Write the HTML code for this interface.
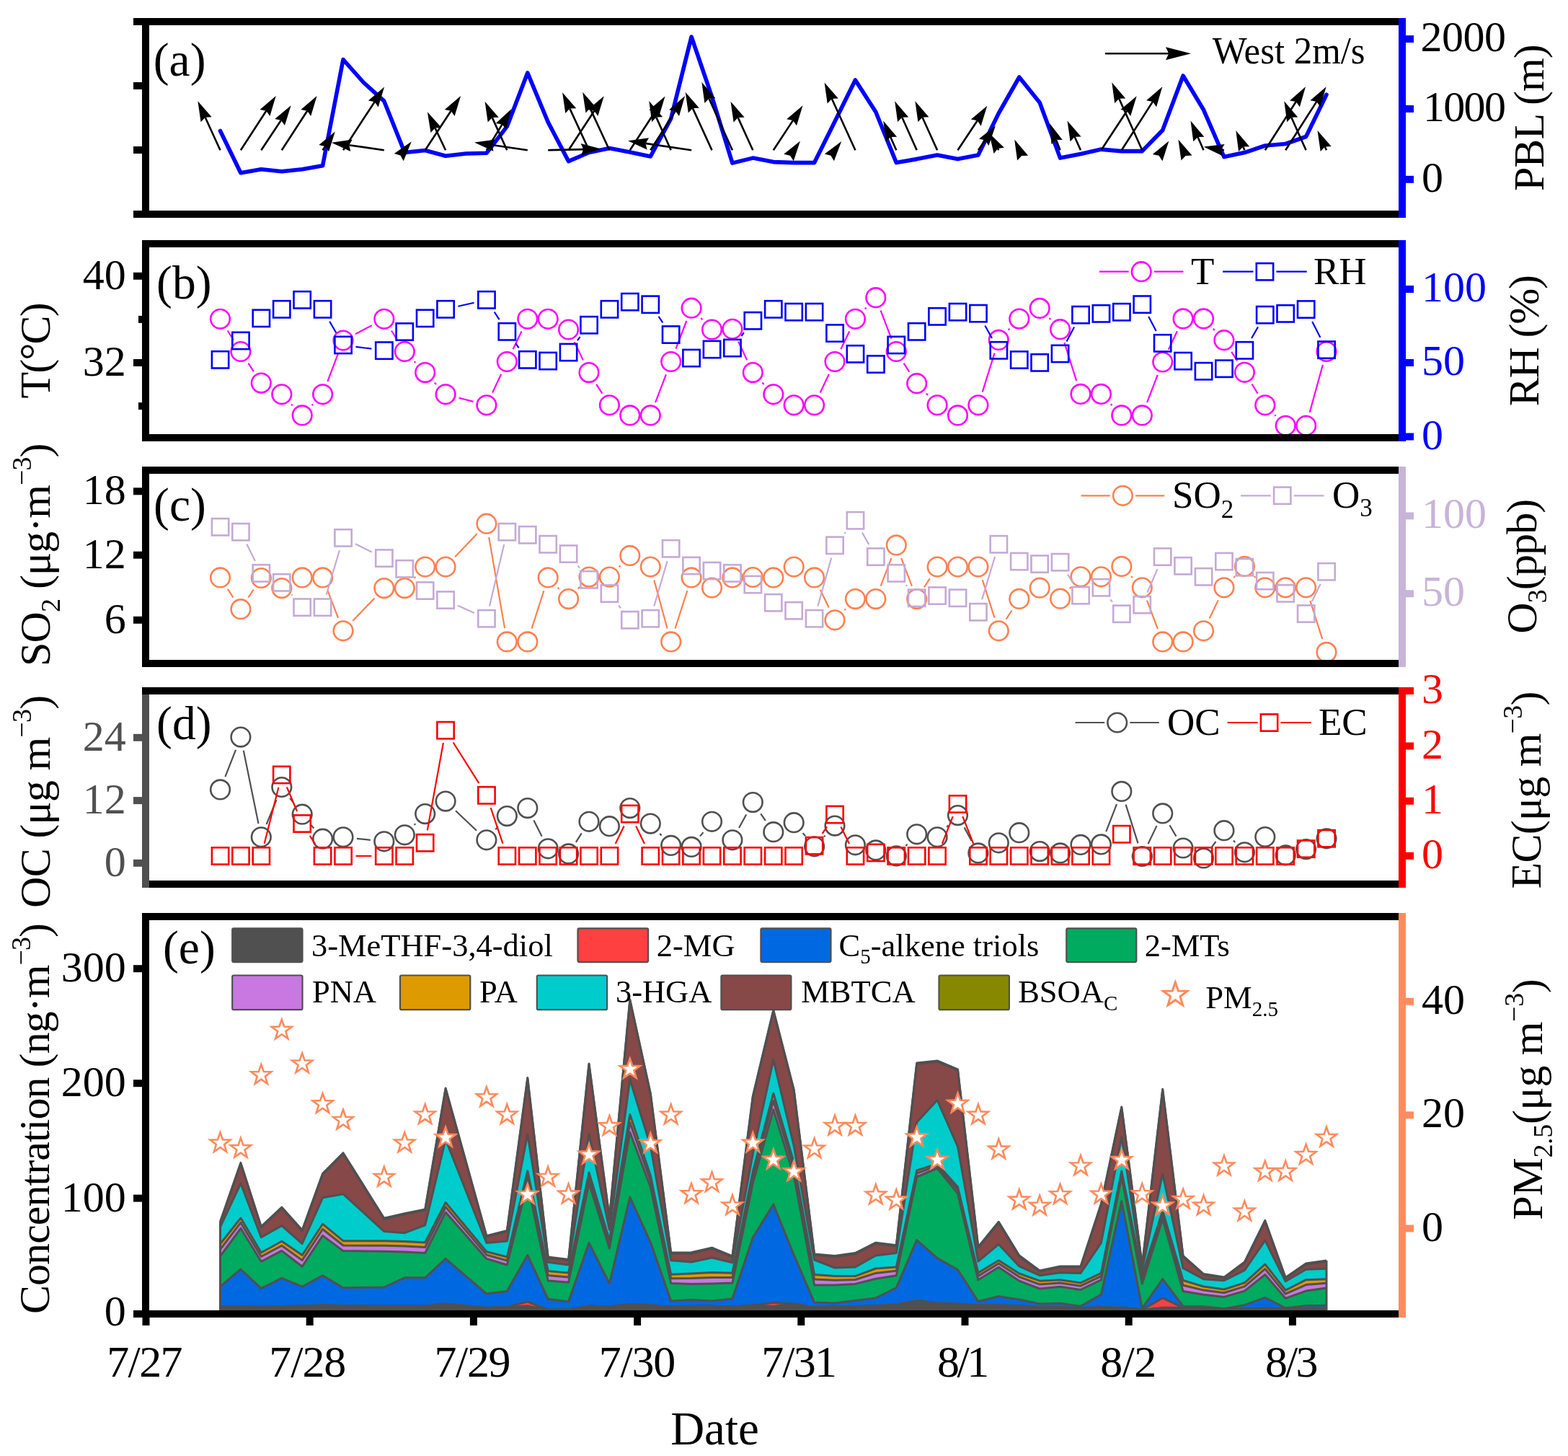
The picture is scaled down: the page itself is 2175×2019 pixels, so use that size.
<!DOCTYPE html>
<html><head><meta charset="utf-8"><title>Figure</title>
<style>html,body{margin:0;padding:0;background:#fff;} svg{display:block;}</style></head>
<body><svg width="2175" height="2019" viewBox="0 0 2175 2019" font-family='"Liberation Serif", "Times New Roman", serif'>
<rect x="0" y="0" width="2175" height="2019" fill="#fff"/>
<polyline points="305.5,181.5 333.9,239.8 362.3,234.8 390.8,237.8 419.2,234.8 447.6,229.8 476.0,82.5 504.4,114.5 532.8,140.2 561.3,211.5 589.7,208.5 618.1,216.3 646.5,213.0 674.9,212.3 703.3,175.4 731.8,101.0 760.2,169.4 788.6,223.6 817.0,211.5 845.4,205.5 873.8,211.0 902.3,217.0 930.7,164.5 959.1,51.0 987.5,134.2 1015.9,226.1 1044.3,219.1 1072.8,224.6 1101.2,225.6 1129.6,225.6 1158.0,168.4 1186.4,111.0 1214.8,155.3 1243.3,225.6 1271.7,220.6 1300.1,215.1 1328.5,220.6 1356.9,215.1 1385.3,157.0 1413.8,107.0 1442.2,142.3 1470.6,219.1 1499.0,213.6 1527.4,207.1 1555.8,209.6 1584.3,209.6 1612.7,180.5 1641.1,105.0 1669.5,152.3 1697.9,217.6 1726.4,211.6 1754.8,202.0 1783.2,199.5 1811.6,189.5 1840.0,131.2" fill="none" stroke="#0000FF" stroke-width="5.6" stroke-linejoin="round" stroke-linecap="round"/>
<line x1="305.5" y1="208.2" x2="284.7" y2="162.7" stroke="#000" stroke-width="2.6"/><path d="M274.4 140.3L293.6 162.3L284.7 162.7L278.6 169.2Z" fill="#000"/><line x1="333.9" y1="208.2" x2="369.3" y2="153.8" stroke="#000" stroke-width="2.6"/><path d="M382.7 133.1L374.4 161.1L369.3 153.8L360.5 152.1Z" fill="#000"/><line x1="362.3" y1="208.2" x2="389.9" y2="166.7" stroke="#000" stroke-width="2.6"/><path d="M403.6 146.2L395.0 174.1L389.9 166.7L381.2 164.9Z" fill="#000"/><line x1="390.8" y1="208.2" x2="426.2" y2="153.8" stroke="#000" stroke-width="2.6"/><path d="M439.6 133.1L431.2 161.1L426.2 153.8L417.4 152.1Z" fill="#000"/><line x1="447.6" y1="208.2" x2="451.1" y2="202.9" stroke="#000" stroke-width="2.6"/><path d="M464.8 182.4L456.1 210.3L451.1 202.9L442.4 201.1Z" fill="#000"/><line x1="476.0" y1="208.2" x2="519.6" y2="141.2" stroke="#000" stroke-width="2.6"/><path d="M533.1 120.6L524.7 148.6L519.6 141.2L510.9 139.6Z" fill="#000"/><line x1="532.8" y1="208.2" x2="484.2" y2="201.2" stroke="#000" stroke-width="2.6"/><path d="M459.8 197.7L488.7 193.5L484.2 201.2L486.3 209.9Z" fill="#000"/><path d="M570.8 196.3L559.7 223.3L555.4 215.5L546.8 213.0Z" fill="#000"/><line x1="589.7" y1="208.2" x2="625.6" y2="153.7" stroke="#000" stroke-width="2.6"/><path d="M639.1 133.1L630.6 161.0L625.6 153.7L616.8 152.0Z" fill="#000"/><line x1="618.1" y1="208.2" x2="603.5" y2="177.5" stroke="#000" stroke-width="2.6"/><path d="M592.9 155.2L612.4 176.9L603.5 177.5L597.5 184.0Z" fill="#000"/><line x1="674.9" y1="208.2" x2="696.6" y2="172.4" stroke="#000" stroke-width="2.6"/><path d="M709.3 151.3L701.9 179.5L696.6 172.4L687.8 171.0Z" fill="#000"/><line x1="703.3" y1="208.2" x2="682.8" y2="163.1" stroke="#000" stroke-width="2.6"/><path d="M672.6 140.7L691.7 162.8L682.8 163.1L676.7 169.6Z" fill="#000"/><line x1="731.8" y1="208.2" x2="682.4" y2="201.0" stroke="#000" stroke-width="2.6"/><path d="M658.0 197.5L686.9 193.4L682.4 201.0L684.5 209.7Z" fill="#000"/><line x1="760.2" y1="208.2" x2="809.2" y2="207.1" stroke="#000" stroke-width="2.6"/><path d="M833.8 206.5L806.0 215.4L809.2 207.1L805.6 198.9Z" fill="#000"/><line x1="788.6" y1="208.2" x2="824.3" y2="153.8" stroke="#000" stroke-width="2.6"/><path d="M837.8 133.2L829.3 161.1L824.3 153.8L815.5 152.1Z" fill="#000"/><line x1="817.0" y1="208.2" x2="790.4" y2="150.6" stroke="#000" stroke-width="2.6"/><path d="M780.1 128.2L799.3 150.2L790.4 150.6L784.3 157.1Z" fill="#000"/><line x1="845.4" y1="208.2" x2="818.5" y2="150.1" stroke="#000" stroke-width="2.6"/><path d="M808.2 127.7L827.4 149.7L818.5 150.1L812.5 156.6Z" fill="#000"/><line x1="873.8" y1="208.2" x2="909.0" y2="154.2" stroke="#000" stroke-width="2.6"/><path d="M922.5 133.6L914.1 161.6L909.0 154.2L900.3 152.5Z" fill="#000"/><line x1="902.3" y1="208.2" x2="936.9" y2="153.9" stroke="#000" stroke-width="2.6"/><path d="M950.1 133.1L942.0 161.1L936.9 153.9L928.1 152.3Z" fill="#000"/><line x1="930.7" y1="208.2" x2="910.3" y2="162.6" stroke="#000" stroke-width="2.6"/><path d="M900.3 140.1L919.2 162.3L910.3 162.6L904.2 169.0Z" fill="#000"/><line x1="959.1" y1="208.2" x2="895.5" y2="198.9" stroke="#000" stroke-width="2.6"/><path d="M871.1 195.3L900.0 191.2L895.5 198.9L897.6 207.5Z" fill="#000"/><line x1="987.5" y1="208.2" x2="960.9" y2="150.1" stroke="#000" stroke-width="2.6"/><path d="M950.7 127.7L969.8 149.7L960.9 150.1L954.8 156.6Z" fill="#000"/><line x1="1015.9" y1="208.2" x2="983.5" y2="136.6" stroke="#000" stroke-width="2.6"/><path d="M973.4 114.1L992.4 136.2L983.5 136.6L977.4 143.0Z" fill="#000"/><line x1="1044.3" y1="208.2" x2="1023.7" y2="163.1" stroke="#000" stroke-width="2.6"/><path d="M1013.5 140.7L1032.6 162.7L1023.7 163.1L1017.6 169.6Z" fill="#000"/><line x1="1072.8" y1="208.2" x2="1100.0" y2="166.9" stroke="#000" stroke-width="2.6"/><path d="M1113.5 146.3L1105.0 174.2L1100.0 166.9L1091.2 165.2Z" fill="#000"/><path d="M1110.0 195.5L1100.8 223.2L1095.9 215.7L1087.2 213.8Z" fill="#000"/><path d="M1167.2 196.0L1156.9 223.3L1152.4 215.7L1143.8 213.4Z" fill="#000"/><line x1="1186.4" y1="208.2" x2="1153.9" y2="137.0" stroke="#000" stroke-width="2.6"/><path d="M1143.6 114.6L1162.8 136.6L1153.9 137.0L1147.7 143.5Z" fill="#000"/><line x1="1243.3" y1="208.2" x2="1235.2" y2="189.9" stroke="#000" stroke-width="2.6"/><path d="M1225.2 167.4L1244.1 189.7L1235.2 189.9L1229.0 196.3Z" fill="#000"/><line x1="1271.7" y1="208.2" x2="1251.3" y2="162.7" stroke="#000" stroke-width="2.6"/><path d="M1241.2 140.2L1260.2 162.4L1251.3 162.7L1245.1 169.1Z" fill="#000"/><line x1="1300.1" y1="208.2" x2="1279.5" y2="162.7" stroke="#000" stroke-width="2.6"/><path d="M1269.4 140.2L1288.4 162.3L1279.5 162.7L1273.4 169.1Z" fill="#000"/><line x1="1328.5" y1="208.2" x2="1355.7" y2="167.3" stroke="#000" stroke-width="2.6"/><path d="M1369.3 146.8L1360.7 174.7L1355.7 167.3L1346.9 165.6Z" fill="#000"/><line x1="1356.9" y1="208.2" x2="1366.6" y2="194.5" stroke="#000" stroke-width="2.6"/><path d="M1380.9 174.4L1371.4 202.0L1366.6 194.5L1358.0 192.5Z" fill="#000"/><line x1="1385.3" y1="208.2" x2="1384.1" y2="206.0" stroke="#000" stroke-width="2.6"/><path d="M1372.0 184.5L1392.9 204.8L1384.1 206.0L1378.6 212.9Z" fill="#000"/><path d="M1407.2 193.5L1426.1 215.7L1417.2 216.0L1411.1 222.4Z" fill="#000"/><line x1="1470.6" y1="208.2" x2="1464.9" y2="193.8" stroke="#000" stroke-width="2.6"/><path d="M1455.9 170.9L1473.8 193.9L1464.9 193.8L1458.5 200.0Z" fill="#000"/><line x1="1499.0" y1="208.2" x2="1490.7" y2="189.8" stroke="#000" stroke-width="2.6"/><path d="M1480.5 167.4L1499.6 189.5L1490.7 189.8L1484.6 196.3Z" fill="#000"/><line x1="1527.4" y1="208.2" x2="1563.2" y2="153.8" stroke="#000" stroke-width="2.6"/><path d="M1576.7 133.2L1568.2 161.1L1563.2 153.8L1554.4 152.1Z" fill="#000"/><line x1="1555.8" y1="208.2" x2="1599.0" y2="140.9" stroke="#000" stroke-width="2.6"/><path d="M1612.3 120.2L1604.1 148.2L1599.0 140.9L1590.2 139.3Z" fill="#000"/><line x1="1584.3" y1="208.2" x2="1552.3" y2="136.7" stroke="#000" stroke-width="2.6"/><path d="M1542.3 114.2L1561.2 136.4L1552.3 136.7L1546.2 143.1Z" fill="#000"/><path d="M1621.4 195.5L1612.4 223.3L1607.5 215.8L1598.8 213.9Z" fill="#000"/><path d="M1634.4 193.5L1653.5 215.6L1644.6 215.9L1638.5 222.4Z" fill="#000"/><line x1="1669.5" y1="208.2" x2="1661.5" y2="189.9" stroke="#000" stroke-width="2.6"/><path d="M1651.5 167.4L1670.4 189.7L1661.5 189.9L1655.3 196.3Z" fill="#000"/><line x1="1697.9" y1="208.2" x2="1693.9" y2="207.5" stroke="#000" stroke-width="2.6"/><path d="M1669.6 203.6L1698.6 199.9L1693.9 207.5L1695.9 216.2Z" fill="#000"/><line x1="1726.4" y1="208.2" x2="1724.3" y2="203.5" stroke="#000" stroke-width="2.6"/><path d="M1714.3 181.0L1733.2 203.3L1724.3 203.5L1718.1 209.9Z" fill="#000"/><line x1="1754.8" y1="208.2" x2="1797.7" y2="141.0" stroke="#000" stroke-width="2.6"/><path d="M1811.0 120.2L1802.9 148.2L1797.7 141.0L1789.0 139.4Z" fill="#000"/><line x1="1783.2" y1="208.2" x2="1826.3" y2="140.9" stroke="#000" stroke-width="2.6"/><path d="M1839.6 120.2L1831.4 148.2L1826.3 140.9L1817.5 139.3Z" fill="#000"/><line x1="1811.6" y1="208.2" x2="1791.3" y2="162.8" stroke="#000" stroke-width="2.6"/><path d="M1781.3 140.3L1800.2 162.5L1791.3 162.8L1785.2 169.2Z" fill="#000"/><line x1="1840.0" y1="208.2" x2="1837.8" y2="203.4" stroke="#000" stroke-width="2.6"/><path d="M1827.5 181.0L1846.7 203.0L1837.8 203.4L1831.7 209.9Z" fill="#000"/>
<line x1="1533.0" y1="74.2" x2="1621.2" y2="74.2" stroke="#000" stroke-width="2.6"/><path d="M1652.0 74.2L1617.0 83.2L1621.2 74.2L1617.0 65.2Z" fill="#000"/>
<text x="1681.7" y="88" font-size="53" textLength="211.9" lengthAdjust="spacingAndGlyphs">West 2m/s</text>
<path d="M315.7 458.5L323.8 471.3M344.3 503.5L351.9 515.1M404.1 560.5L405.8 562.2M432.5 562.2L434.2 560.5M454.4 528.9L469.2 489.9M492.9 463.2L515.9 451.1M543.0 458.5L551.1 471.3M574.6 501.2L576.3 502.9M602.8 530.5L605.0 532.9M636.6 551.7L656.5 556.9M683.1 544.5L695.2 518.8M711.6 484.3L723.5 459.5M796.8 474.2L808.8 499.4M827.2 532.8L835.3 545.6M909.1 558.1L923.9 519.3M937.5 483.7L952.3 445.0M972.3 441.0L974.3 443.2M1024.1 473.6L1036.2 499.3M1057.4 530.5L1059.7 532.9M1137.7 544.5L1149.9 518.8M1166.3 484.3L1178.2 459.5M1199.7 428.5L1201.6 426.5M1221.6 430.6L1236.5 469.6M1253.6 503.6L1261.3 515.6M1284.8 545.6L1287.0 547.9M1362.7 543.6L1379.6 489.6M1398.6 457.7L1400.5 455.8M1455.5 441.1L1457.3 443.0M1476.4 474.9L1493.2 528.2M1540.7 560.2L1542.6 562.1M1591.1 558.1L1605.8 519.8M1620.8 484.7L1632.9 459.2M1682.7 455.7L1684.8 457.9M1708.2 487.8L1716.1 500.2M1736.5 532.5L1744.6 545.6M1768.3 575.3L1769.7 576.8M1816.7 571.9L1834.9 505.8" stroke="#FF00FF" stroke-width="2.2" fill="none"/>
<circle cx="305.5" cy="442.3" r="13.3" fill="none" stroke="#FF00FF" stroke-width="2.6"/>
<circle cx="333.9" cy="487.5" r="13.3" fill="none" stroke="#FF00FF" stroke-width="2.6"/>
<circle cx="362.3" cy="531.1" r="13.3" fill="none" stroke="#FF00FF" stroke-width="2.6"/>
<circle cx="390.8" cy="546.8" r="13.3" fill="none" stroke="#FF00FF" stroke-width="2.6"/>
<circle cx="419.2" cy="575.9" r="13.3" fill="none" stroke="#FF00FF" stroke-width="2.6"/>
<circle cx="447.6" cy="546.8" r="13.3" fill="none" stroke="#FF00FF" stroke-width="2.6"/>
<circle cx="476.0" cy="472.0" r="13.3" fill="none" stroke="#FF00FF" stroke-width="2.6"/>
<circle cx="532.8" cy="442.3" r="13.3" fill="none" stroke="#FF00FF" stroke-width="2.6"/>
<circle cx="561.3" cy="487.5" r="13.3" fill="none" stroke="#FF00FF" stroke-width="2.6"/>
<circle cx="589.7" cy="516.6" r="13.3" fill="none" stroke="#FF00FF" stroke-width="2.6"/>
<circle cx="618.1" cy="546.8" r="13.3" fill="none" stroke="#FF00FF" stroke-width="2.6"/>
<circle cx="674.9" cy="561.8" r="13.3" fill="none" stroke="#FF00FF" stroke-width="2.6"/>
<circle cx="703.3" cy="501.5" r="13.3" fill="none" stroke="#FF00FF" stroke-width="2.6"/>
<circle cx="731.8" cy="442.3" r="13.3" fill="none" stroke="#FF00FF" stroke-width="2.6"/>
<circle cx="760.2" cy="442.3" r="13.3" fill="none" stroke="#FF00FF" stroke-width="2.6"/>
<circle cx="788.6" cy="457.0" r="13.3" fill="none" stroke="#FF00FF" stroke-width="2.6"/>
<circle cx="817.0" cy="516.6" r="13.3" fill="none" stroke="#FF00FF" stroke-width="2.6"/>
<circle cx="845.4" cy="561.8" r="13.3" fill="none" stroke="#FF00FF" stroke-width="2.6"/>
<circle cx="873.8" cy="575.9" r="13.3" fill="none" stroke="#FF00FF" stroke-width="2.6"/>
<circle cx="902.3" cy="575.9" r="13.3" fill="none" stroke="#FF00FF" stroke-width="2.6"/>
<circle cx="930.7" cy="501.5" r="13.3" fill="none" stroke="#FF00FF" stroke-width="2.6"/>
<circle cx="959.1" cy="427.2" r="13.3" fill="none" stroke="#FF00FF" stroke-width="2.6"/>
<circle cx="987.5" cy="457.0" r="13.3" fill="none" stroke="#FF00FF" stroke-width="2.6"/>
<circle cx="1015.9" cy="456.3" r="13.3" fill="none" stroke="#FF00FF" stroke-width="2.6"/>
<circle cx="1044.3" cy="516.6" r="13.3" fill="none" stroke="#FF00FF" stroke-width="2.6"/>
<circle cx="1072.8" cy="546.8" r="13.3" fill="none" stroke="#FF00FF" stroke-width="2.6"/>
<circle cx="1101.2" cy="561.8" r="13.3" fill="none" stroke="#FF00FF" stroke-width="2.6"/>
<circle cx="1129.6" cy="561.8" r="13.3" fill="none" stroke="#FF00FF" stroke-width="2.6"/>
<circle cx="1158.0" cy="501.5" r="13.3" fill="none" stroke="#FF00FF" stroke-width="2.6"/>
<circle cx="1186.4" cy="442.3" r="13.3" fill="none" stroke="#FF00FF" stroke-width="2.6"/>
<circle cx="1214.8" cy="412.7" r="13.3" fill="none" stroke="#FF00FF" stroke-width="2.6"/>
<circle cx="1243.3" cy="487.5" r="13.3" fill="none" stroke="#FF00FF" stroke-width="2.6"/>
<circle cx="1271.7" cy="531.7" r="13.3" fill="none" stroke="#FF00FF" stroke-width="2.6"/>
<circle cx="1300.1" cy="561.8" r="13.3" fill="none" stroke="#FF00FF" stroke-width="2.6"/>
<circle cx="1328.5" cy="575.9" r="13.3" fill="none" stroke="#FF00FF" stroke-width="2.6"/>
<circle cx="1356.9" cy="561.8" r="13.3" fill="none" stroke="#FF00FF" stroke-width="2.6"/>
<circle cx="1385.3" cy="471.4" r="13.3" fill="none" stroke="#FF00FF" stroke-width="2.6"/>
<circle cx="1413.8" cy="442.1" r="13.3" fill="none" stroke="#FF00FF" stroke-width="2.6"/>
<circle cx="1442.2" cy="427.4" r="13.3" fill="none" stroke="#FF00FF" stroke-width="2.6"/>
<circle cx="1470.6" cy="456.7" r="13.3" fill="none" stroke="#FF00FF" stroke-width="2.6"/>
<circle cx="1499.0" cy="546.4" r="13.3" fill="none" stroke="#FF00FF" stroke-width="2.6"/>
<circle cx="1527.4" cy="546.4" r="13.3" fill="none" stroke="#FF00FF" stroke-width="2.6"/>
<circle cx="1555.8" cy="575.9" r="13.3" fill="none" stroke="#FF00FF" stroke-width="2.6"/>
<circle cx="1584.3" cy="575.9" r="13.3" fill="none" stroke="#FF00FF" stroke-width="2.6"/>
<circle cx="1612.7" cy="502.0" r="13.3" fill="none" stroke="#FF00FF" stroke-width="2.6"/>
<circle cx="1641.1" cy="441.9" r="13.3" fill="none" stroke="#FF00FF" stroke-width="2.6"/>
<circle cx="1669.5" cy="441.9" r="13.3" fill="none" stroke="#FF00FF" stroke-width="2.6"/>
<circle cx="1697.9" cy="471.7" r="13.3" fill="none" stroke="#FF00FF" stroke-width="2.6"/>
<circle cx="1726.4" cy="516.3" r="13.3" fill="none" stroke="#FF00FF" stroke-width="2.6"/>
<circle cx="1754.8" cy="561.8" r="13.3" fill="none" stroke="#FF00FF" stroke-width="2.6"/>
<circle cx="1783.2" cy="590.3" r="13.3" fill="none" stroke="#FF00FF" stroke-width="2.6"/>
<circle cx="1811.6" cy="590.3" r="13.3" fill="none" stroke="#FF00FF" stroke-width="2.6"/>
<circle cx="1840.0" cy="487.4" r="13.3" fill="none" stroke="#FF00FF" stroke-width="2.6"/>
<path d="M457.2 445.7L466.3 461.5M493.4 480.8L515.4 483.7M635.4 424.8L657.6 419.8M685.7 432.5L692.5 443.1M715.4 476.4L719.7 482.3M801.0 472.0L804.6 467.2M913.6 438.9L919.3 447.3M1028.4 466.0L1031.9 461.2M1366.3 451.5L1376.0 469.0M1479.5 473.5L1490.1 453.5M1593.2 439.0L1603.7 459.0M1736.1 469.0L1745.0 453.4M1820.2 446.0L1831.4 468.1" stroke="#0000FF" stroke-width="2.2" fill="none"/>
<rect x="293.9" y="487.2" width="23.3" height="23.3" fill="none" stroke="#0000FF" stroke-width="2.6"/>
<rect x="322.3" y="460.8" width="23.3" height="23.3" fill="none" stroke="#0000FF" stroke-width="2.6"/>
<rect x="350.7" y="429.7" width="23.3" height="23.3" fill="none" stroke="#0000FF" stroke-width="2.6"/>
<rect x="379.1" y="417.2" width="23.3" height="23.3" fill="none" stroke="#0000FF" stroke-width="2.6"/>
<rect x="407.5" y="404.2" width="23.3" height="23.3" fill="none" stroke="#0000FF" stroke-width="2.6"/>
<rect x="435.9" y="417.2" width="23.3" height="23.3" fill="none" stroke="#0000FF" stroke-width="2.6"/>
<rect x="464.4" y="466.8" width="23.3" height="23.3" fill="none" stroke="#0000FF" stroke-width="2.6"/>
<rect x="521.2" y="474.5" width="23.3" height="23.3" fill="none" stroke="#0000FF" stroke-width="2.6"/>
<rect x="549.6" y="448.4" width="23.3" height="23.3" fill="none" stroke="#0000FF" stroke-width="2.6"/>
<rect x="578.0" y="429.7" width="23.3" height="23.3" fill="none" stroke="#0000FF" stroke-width="2.6"/>
<rect x="606.4" y="417.2" width="23.3" height="23.3" fill="none" stroke="#0000FF" stroke-width="2.6"/>
<rect x="663.3" y="404.2" width="23.3" height="23.3" fill="none" stroke="#0000FF" stroke-width="2.6"/>
<rect x="691.7" y="448.2" width="23.3" height="23.3" fill="none" stroke="#0000FF" stroke-width="2.6"/>
<rect x="720.1" y="487.2" width="23.3" height="23.3" fill="none" stroke="#0000FF" stroke-width="2.6"/>
<rect x="748.5" y="488.9" width="23.3" height="23.3" fill="none" stroke="#0000FF" stroke-width="2.6"/>
<rect x="776.9" y="476.9" width="23.3" height="23.3" fill="none" stroke="#0000FF" stroke-width="2.6"/>
<rect x="805.4" y="439.1" width="23.3" height="23.3" fill="none" stroke="#0000FF" stroke-width="2.6"/>
<rect x="833.8" y="417.2" width="23.3" height="23.3" fill="none" stroke="#0000FF" stroke-width="2.6"/>
<rect x="862.2" y="407.0" width="23.3" height="23.3" fill="none" stroke="#0000FF" stroke-width="2.6"/>
<rect x="890.6" y="410.6" width="23.3" height="23.3" fill="none" stroke="#0000FF" stroke-width="2.6"/>
<rect x="919.0" y="452.4" width="23.3" height="23.3" fill="none" stroke="#0000FF" stroke-width="2.6"/>
<rect x="947.4" y="484.9" width="23.3" height="23.3" fill="none" stroke="#0000FF" stroke-width="2.6"/>
<rect x="975.9" y="472.9" width="23.3" height="23.3" fill="none" stroke="#0000FF" stroke-width="2.6"/>
<rect x="1004.3" y="470.9" width="23.3" height="23.3" fill="none" stroke="#0000FF" stroke-width="2.6"/>
<rect x="1032.7" y="433.1" width="23.3" height="23.3" fill="none" stroke="#0000FF" stroke-width="2.6"/>
<rect x="1061.1" y="417.2" width="23.3" height="23.3" fill="none" stroke="#0000FF" stroke-width="2.6"/>
<rect x="1089.5" y="421.0" width="23.3" height="23.3" fill="none" stroke="#0000FF" stroke-width="2.6"/>
<rect x="1117.9" y="421.0" width="23.3" height="23.3" fill="none" stroke="#0000FF" stroke-width="2.6"/>
<rect x="1146.4" y="450.4" width="23.3" height="23.3" fill="none" stroke="#0000FF" stroke-width="2.6"/>
<rect x="1174.8" y="479.2" width="23.3" height="23.3" fill="none" stroke="#0000FF" stroke-width="2.6"/>
<rect x="1203.2" y="493.4" width="23.3" height="23.3" fill="none" stroke="#0000FF" stroke-width="2.6"/>
<rect x="1231.6" y="466.8" width="23.3" height="23.3" fill="none" stroke="#0000FF" stroke-width="2.6"/>
<rect x="1260.0" y="448.2" width="23.3" height="23.3" fill="none" stroke="#0000FF" stroke-width="2.6"/>
<rect x="1288.4" y="427.2" width="23.3" height="23.3" fill="none" stroke="#0000FF" stroke-width="2.6"/>
<rect x="1316.9" y="421.0" width="23.3" height="23.3" fill="none" stroke="#0000FF" stroke-width="2.6"/>
<rect x="1345.3" y="423.0" width="23.3" height="23.3" fill="none" stroke="#0000FF" stroke-width="2.6"/>
<rect x="1373.7" y="474.2" width="23.3" height="23.3" fill="none" stroke="#0000FF" stroke-width="2.6"/>
<rect x="1402.1" y="487.4" width="23.3" height="23.3" fill="none" stroke="#0000FF" stroke-width="2.6"/>
<rect x="1430.5" y="491.2" width="23.3" height="23.3" fill="none" stroke="#0000FF" stroke-width="2.6"/>
<rect x="1458.9" y="478.8" width="23.3" height="23.3" fill="none" stroke="#0000FF" stroke-width="2.6"/>
<rect x="1487.4" y="425.0" width="23.3" height="23.3" fill="none" stroke="#0000FF" stroke-width="2.6"/>
<rect x="1515.8" y="423.2" width="23.3" height="23.3" fill="none" stroke="#0000FF" stroke-width="2.6"/>
<rect x="1544.2" y="421.1" width="23.3" height="23.3" fill="none" stroke="#0000FF" stroke-width="2.6"/>
<rect x="1572.6" y="410.5" width="23.3" height="23.3" fill="none" stroke="#0000FF" stroke-width="2.6"/>
<rect x="1601.0" y="464.2" width="23.3" height="23.3" fill="none" stroke="#0000FF" stroke-width="2.6"/>
<rect x="1629.4" y="489.0" width="23.3" height="23.3" fill="none" stroke="#0000FF" stroke-width="2.6"/>
<rect x="1657.9" y="503.1" width="23.3" height="23.3" fill="none" stroke="#0000FF" stroke-width="2.6"/>
<rect x="1686.3" y="499.6" width="23.3" height="23.3" fill="none" stroke="#0000FF" stroke-width="2.6"/>
<rect x="1714.7" y="474.2" width="23.3" height="23.3" fill="none" stroke="#0000FF" stroke-width="2.6"/>
<rect x="1743.1" y="425.0" width="23.3" height="23.3" fill="none" stroke="#0000FF" stroke-width="2.6"/>
<rect x="1771.5" y="423.2" width="23.3" height="23.3" fill="none" stroke="#0000FF" stroke-width="2.6"/>
<rect x="1800.0" y="417.4" width="23.3" height="23.3" fill="none" stroke="#0000FF" stroke-width="2.6"/>
<rect x="1828.4" y="473.5" width="23.3" height="23.3" fill="none" stroke="#0000FF" stroke-width="2.6"/>
<path d="M1525.0 376.7H1565.6M1600.8 376.7H1641.4" stroke="#FF00FF" stroke-width="2.2" fill="none"/>
<circle cx="1583.2" cy="376.7" r="13.3" fill="none" stroke="#FF00FF" stroke-width="2.6"/>
<text x="1652" y="394" font-size="53">T</text>
<path d="M1696.2 376.7H1738.5M1770.4 376.7H1812.7" stroke="#0000FF" stroke-width="2.2" fill="none"/>
<rect x="1742.8" y="365.1" width="23.3" height="23.3" fill="none" stroke="#0000FF" stroke-width="2.6"/>
<text x="1822" y="394" font-size="53">RH</text>
<path d="M315.9 816.9L323.5 828.7M344.4 828.7L351.8 817.5M454.4 818.7L469.1 857.0M489.2 861.0L519.6 829.4M574.5 801.8L576.4 799.8M631.2 772.2L661.8 740.0M678.2 745.0L700.1 871.1M737.6 871.7L754.4 819.1M773.4 814.7L775.4 816.8M801.6 816.6L804.0 814.1M858.6 786.3L860.6 784.2M907.3 804.4L925.6 871.5M936.5 871.7L953.3 819.1M1137.9 818.1L1149.7 842.6M1171.3 846.1L1173.1 844.3M1221.6 812.7L1236.5 773.8M1250.1 773.8L1264.9 812.7M1281.9 814.5L1289.8 802.1M1362.8 804.2L1379.5 856.6M1395.6 858.7L1403.5 846.5M1483.6 816.2L1486.0 813.8M1569.1 799.1L1571.0 801.1M1591.0 832.7L1605.9 872.0M1677.7 857.5L1689.8 832.1M1711.2 801.1L1713.1 799.1M1739.6 799.1L1741.5 801.1M1817.4 833.0L1834.2 886.2" stroke="#FF8050" stroke-width="2.2" fill="none"/>
<circle cx="305.5" cy="800.9" r="13.3" fill="none" stroke="#FF8050" stroke-width="2.6"/>
<circle cx="333.9" cy="844.7" r="13.3" fill="none" stroke="#FF8050" stroke-width="2.6"/>
<circle cx="362.3" cy="801.5" r="13.3" fill="none" stroke="#FF8050" stroke-width="2.6"/>
<circle cx="390.8" cy="815.6" r="13.3" fill="none" stroke="#FF8050" stroke-width="2.6"/>
<circle cx="419.2" cy="800.9" r="13.3" fill="none" stroke="#FF8050" stroke-width="2.6"/>
<circle cx="447.6" cy="800.9" r="13.3" fill="none" stroke="#FF8050" stroke-width="2.6"/>
<circle cx="476.0" cy="874.8" r="13.3" fill="none" stroke="#FF8050" stroke-width="2.6"/>
<circle cx="532.8" cy="815.6" r="13.3" fill="none" stroke="#FF8050" stroke-width="2.6"/>
<circle cx="561.3" cy="815.6" r="13.3" fill="none" stroke="#FF8050" stroke-width="2.6"/>
<circle cx="589.7" cy="786.0" r="13.3" fill="none" stroke="#FF8050" stroke-width="2.6"/>
<circle cx="618.1" cy="786.0" r="13.3" fill="none" stroke="#FF8050" stroke-width="2.6"/>
<circle cx="674.9" cy="726.2" r="13.3" fill="none" stroke="#FF8050" stroke-width="2.6"/>
<circle cx="703.3" cy="889.9" r="13.3" fill="none" stroke="#FF8050" stroke-width="2.6"/>
<circle cx="731.8" cy="889.9" r="13.3" fill="none" stroke="#FF8050" stroke-width="2.6"/>
<circle cx="760.2" cy="800.9" r="13.3" fill="none" stroke="#FF8050" stroke-width="2.6"/>
<circle cx="788.6" cy="830.6" r="13.3" fill="none" stroke="#FF8050" stroke-width="2.6"/>
<circle cx="817.0" cy="800.1" r="13.3" fill="none" stroke="#FF8050" stroke-width="2.6"/>
<circle cx="845.4" cy="800.1" r="13.3" fill="none" stroke="#FF8050" stroke-width="2.6"/>
<circle cx="873.8" cy="770.4" r="13.3" fill="none" stroke="#FF8050" stroke-width="2.6"/>
<circle cx="902.3" cy="786.0" r="13.3" fill="none" stroke="#FF8050" stroke-width="2.6"/>
<circle cx="930.7" cy="889.9" r="13.3" fill="none" stroke="#FF8050" stroke-width="2.6"/>
<circle cx="959.1" cy="800.9" r="13.3" fill="none" stroke="#FF8050" stroke-width="2.6"/>
<circle cx="987.5" cy="815.0" r="13.3" fill="none" stroke="#FF8050" stroke-width="2.6"/>
<circle cx="1015.9" cy="800.9" r="13.3" fill="none" stroke="#FF8050" stroke-width="2.6"/>
<circle cx="1044.3" cy="800.5" r="13.3" fill="none" stroke="#FF8050" stroke-width="2.6"/>
<circle cx="1072.8" cy="800.9" r="13.3" fill="none" stroke="#FF8050" stroke-width="2.6"/>
<circle cx="1101.2" cy="786.0" r="13.3" fill="none" stroke="#FF8050" stroke-width="2.6"/>
<circle cx="1129.6" cy="800.9" r="13.3" fill="none" stroke="#FF8050" stroke-width="2.6"/>
<circle cx="1158.0" cy="859.8" r="13.3" fill="none" stroke="#FF8050" stroke-width="2.6"/>
<circle cx="1186.4" cy="830.6" r="13.3" fill="none" stroke="#FF8050" stroke-width="2.6"/>
<circle cx="1214.8" cy="830.6" r="13.3" fill="none" stroke="#FF8050" stroke-width="2.6"/>
<circle cx="1243.3" cy="755.9" r="13.3" fill="none" stroke="#FF8050" stroke-width="2.6"/>
<circle cx="1271.7" cy="830.6" r="13.3" fill="none" stroke="#FF8050" stroke-width="2.6"/>
<circle cx="1300.1" cy="786.0" r="13.3" fill="none" stroke="#FF8050" stroke-width="2.6"/>
<circle cx="1328.5" cy="786.0" r="13.3" fill="none" stroke="#FF8050" stroke-width="2.6"/>
<circle cx="1356.9" cy="786.0" r="13.3" fill="none" stroke="#FF8050" stroke-width="2.6"/>
<circle cx="1385.3" cy="874.8" r="13.3" fill="none" stroke="#FF8050" stroke-width="2.6"/>
<circle cx="1413.8" cy="830.4" r="13.3" fill="none" stroke="#FF8050" stroke-width="2.6"/>
<circle cx="1442.2" cy="815.2" r="13.3" fill="none" stroke="#FF8050" stroke-width="2.6"/>
<circle cx="1470.6" cy="830.2" r="13.3" fill="none" stroke="#FF8050" stroke-width="2.6"/>
<circle cx="1499.0" cy="799.8" r="13.3" fill="none" stroke="#FF8050" stroke-width="2.6"/>
<circle cx="1527.4" cy="799.8" r="13.3" fill="none" stroke="#FF8050" stroke-width="2.6"/>
<circle cx="1555.8" cy="785.4" r="13.3" fill="none" stroke="#FF8050" stroke-width="2.6"/>
<circle cx="1584.3" cy="814.8" r="13.3" fill="none" stroke="#FF8050" stroke-width="2.6"/>
<circle cx="1612.7" cy="889.9" r="13.3" fill="none" stroke="#FF8050" stroke-width="2.6"/>
<circle cx="1641.1" cy="889.9" r="13.3" fill="none" stroke="#FF8050" stroke-width="2.6"/>
<circle cx="1669.5" cy="874.8" r="13.3" fill="none" stroke="#FF8050" stroke-width="2.6"/>
<circle cx="1697.9" cy="814.8" r="13.3" fill="none" stroke="#FF8050" stroke-width="2.6"/>
<circle cx="1726.4" cy="785.4" r="13.3" fill="none" stroke="#FF8050" stroke-width="2.6"/>
<circle cx="1754.8" cy="814.8" r="13.3" fill="none" stroke="#FF8050" stroke-width="2.6"/>
<circle cx="1783.2" cy="814.8" r="13.3" fill="none" stroke="#FF8050" stroke-width="2.6"/>
<circle cx="1811.6" cy="814.8" r="13.3" fill="none" stroke="#FF8050" stroke-width="2.6"/>
<circle cx="1840.0" cy="904.4" r="13.3" fill="none" stroke="#FF8050" stroke-width="2.6"/>
<path d="M342.3 754.6L353.9 777.9M404.4 824.3L405.5 825.7M452.7 824.8L470.9 763.2M493.0 754.3L515.9 765.6M635.1 839.7L657.9 850.1M679.0 840.5L699.2 754.9M801.6 784.5L804.0 787.4M858.2 839.5L861.1 843.3M907.3 840.5L925.6 778.0M1134.4 840.5L1153.2 773.6M1171.5 739.9L1172.9 738.1M1196.0 738.6L1205.3 755.1M1256.9 811.3L1258.1 812.8M1362.1 831.4L1380.1 772.0M1481.0 796.4L1488.6 808.8M1540.3 831.3L1543.0 834.8M1591.6 821.5L1605.4 789.1M1819.9 834.0L1831.7 809.8" stroke="#C5A9D6" stroke-width="2.2" fill="none"/>
<rect x="293.9" y="719.1" width="23.3" height="23.3" fill="none" stroke="#C5A9D6" stroke-width="2.6"/>
<rect x="322.3" y="726.0" width="23.3" height="23.3" fill="none" stroke="#C5A9D6" stroke-width="2.6"/>
<rect x="350.7" y="783.2" width="23.3" height="23.3" fill="none" stroke="#C5A9D6" stroke-width="2.6"/>
<rect x="379.1" y="796.2" width="23.3" height="23.3" fill="none" stroke="#C5A9D6" stroke-width="2.6"/>
<rect x="407.5" y="830.5" width="23.3" height="23.3" fill="none" stroke="#C5A9D6" stroke-width="2.6"/>
<rect x="435.9" y="830.5" width="23.3" height="23.3" fill="none" stroke="#C5A9D6" stroke-width="2.6"/>
<rect x="464.4" y="734.2" width="23.3" height="23.3" fill="none" stroke="#C5A9D6" stroke-width="2.6"/>
<rect x="521.2" y="762.4" width="23.3" height="23.3" fill="none" stroke="#C5A9D6" stroke-width="2.6"/>
<rect x="549.6" y="777.1" width="23.3" height="23.3" fill="none" stroke="#C5A9D6" stroke-width="2.6"/>
<rect x="578.0" y="807.4" width="23.3" height="23.3" fill="none" stroke="#C5A9D6" stroke-width="2.6"/>
<rect x="606.4" y="820.4" width="23.3" height="23.3" fill="none" stroke="#C5A9D6" stroke-width="2.6"/>
<rect x="663.3" y="846.1" width="23.3" height="23.3" fill="none" stroke="#C5A9D6" stroke-width="2.6"/>
<rect x="691.7" y="726.0" width="23.3" height="23.3" fill="none" stroke="#C5A9D6" stroke-width="2.6"/>
<rect x="720.1" y="730.1" width="23.3" height="23.3" fill="none" stroke="#C5A9D6" stroke-width="2.6"/>
<rect x="748.5" y="743.1" width="23.3" height="23.3" fill="none" stroke="#C5A9D6" stroke-width="2.6"/>
<rect x="776.9" y="756.4" width="23.3" height="23.3" fill="none" stroke="#C5A9D6" stroke-width="2.6"/>
<rect x="805.4" y="792.2" width="23.3" height="23.3" fill="none" stroke="#C5A9D6" stroke-width="2.6"/>
<rect x="833.8" y="811.4" width="23.3" height="23.3" fill="none" stroke="#C5A9D6" stroke-width="2.6"/>
<rect x="862.2" y="848.1" width="23.3" height="23.3" fill="none" stroke="#C5A9D6" stroke-width="2.6"/>
<rect x="890.6" y="846.1" width="23.3" height="23.3" fill="none" stroke="#C5A9D6" stroke-width="2.6"/>
<rect x="919.0" y="749.1" width="23.3" height="23.3" fill="none" stroke="#C5A9D6" stroke-width="2.6"/>
<rect x="947.4" y="772.8" width="23.3" height="23.3" fill="none" stroke="#C5A9D6" stroke-width="2.6"/>
<rect x="975.9" y="779.9" width="23.3" height="23.3" fill="none" stroke="#C5A9D6" stroke-width="2.6"/>
<rect x="1004.3" y="783.2" width="23.3" height="23.3" fill="none" stroke="#C5A9D6" stroke-width="2.6"/>
<rect x="1032.7" y="798.9" width="23.3" height="23.3" fill="none" stroke="#C5A9D6" stroke-width="2.6"/>
<rect x="1061.1" y="824.1" width="23.3" height="23.3" fill="none" stroke="#C5A9D6" stroke-width="2.6"/>
<rect x="1089.5" y="835.1" width="23.3" height="23.3" fill="none" stroke="#C5A9D6" stroke-width="2.6"/>
<rect x="1117.9" y="846.1" width="23.3" height="23.3" fill="none" stroke="#C5A9D6" stroke-width="2.6"/>
<rect x="1146.4" y="744.6" width="23.3" height="23.3" fill="none" stroke="#C5A9D6" stroke-width="2.6"/>
<rect x="1174.8" y="710.1" width="23.3" height="23.3" fill="none" stroke="#C5A9D6" stroke-width="2.6"/>
<rect x="1203.2" y="760.4" width="23.3" height="23.3" fill="none" stroke="#C5A9D6" stroke-width="2.6"/>
<rect x="1231.6" y="783.2" width="23.3" height="23.3" fill="none" stroke="#C5A9D6" stroke-width="2.6"/>
<rect x="1260.0" y="817.6" width="23.3" height="23.3" fill="none" stroke="#C5A9D6" stroke-width="2.6"/>
<rect x="1288.4" y="814.4" width="23.3" height="23.3" fill="none" stroke="#C5A9D6" stroke-width="2.6"/>
<rect x="1316.9" y="817.6" width="23.3" height="23.3" fill="none" stroke="#C5A9D6" stroke-width="2.6"/>
<rect x="1345.3" y="837.1" width="23.3" height="23.3" fill="none" stroke="#C5A9D6" stroke-width="2.6"/>
<rect x="1373.7" y="743.1" width="23.3" height="23.3" fill="none" stroke="#C5A9D6" stroke-width="2.6"/>
<rect x="1402.1" y="766.9" width="23.3" height="23.3" fill="none" stroke="#C5A9D6" stroke-width="2.6"/>
<rect x="1430.5" y="770.4" width="23.3" height="23.3" fill="none" stroke="#C5A9D6" stroke-width="2.6"/>
<rect x="1458.9" y="768.0" width="23.3" height="23.3" fill="none" stroke="#C5A9D6" stroke-width="2.6"/>
<rect x="1487.4" y="814.0" width="23.3" height="23.3" fill="none" stroke="#C5A9D6" stroke-width="2.6"/>
<rect x="1515.8" y="803.1" width="23.3" height="23.3" fill="none" stroke="#C5A9D6" stroke-width="2.6"/>
<rect x="1544.2" y="839.6" width="23.3" height="23.3" fill="none" stroke="#C5A9D6" stroke-width="2.6"/>
<rect x="1572.6" y="827.0" width="23.3" height="23.3" fill="none" stroke="#C5A9D6" stroke-width="2.6"/>
<rect x="1601.0" y="760.4" width="23.3" height="23.3" fill="none" stroke="#C5A9D6" stroke-width="2.6"/>
<rect x="1629.4" y="773.1" width="23.3" height="23.3" fill="none" stroke="#C5A9D6" stroke-width="2.6"/>
<rect x="1657.9" y="788.1" width="23.3" height="23.3" fill="none" stroke="#C5A9D6" stroke-width="2.6"/>
<rect x="1686.3" y="766.9" width="23.3" height="23.3" fill="none" stroke="#C5A9D6" stroke-width="2.6"/>
<rect x="1714.7" y="775.0" width="23.3" height="23.3" fill="none" stroke="#C5A9D6" stroke-width="2.6"/>
<rect x="1743.1" y="793.9" width="23.3" height="23.3" fill="none" stroke="#C5A9D6" stroke-width="2.6"/>
<rect x="1771.5" y="811.2" width="23.3" height="23.3" fill="none" stroke="#C5A9D6" stroke-width="2.6"/>
<rect x="1800.0" y="839.4" width="23.3" height="23.3" fill="none" stroke="#C5A9D6" stroke-width="2.6"/>
<rect x="1828.4" y="781.1" width="23.3" height="23.3" fill="none" stroke="#C5A9D6" stroke-width="2.6"/>
<path d="M1499.6 687.3H1539.8M1575.0 687.3H1615.2" stroke="#FF8050" stroke-width="2.2" fill="none"/>
<circle cx="1557.4" cy="687.3" r="13.3" fill="none" stroke="#FF8050" stroke-width="2.6"/>
<text x="1626" y="704" font-size="53">SO<tspan dy="14" font-size="35">2</tspan></text>
<path d="M1721.0 687.3H1762.8M1794.7 687.3H1836.5" stroke="#C5A9D6" stroke-width="2.2" fill="none"/>
<rect x="1767.1" y="675.6" width="23.3" height="23.3" fill="none" stroke="#C5A9D6" stroke-width="2.6"/>
<text x="1848" y="704" font-size="53">O<tspan dy="12" font-size="35">3</tspan></text>
<path d="M312.4 1077.1L327.0 1039.9M337.8 1040.8L358.5 1142.1M369.6 1143.1L383.5 1109.2M402.2 1106.8L407.7 1113.9M431.4 1143.9L435.3 1148.5M495.0 1162.8L513.8 1164.8M574.6 1144.1L576.3 1142.3M632.0 1124.2L661.0 1151.7M687.3 1150.3L690.9 1146.1M740.4 1137.6L751.6 1159.8M798.9 1167.8L806.7 1155.4M915.3 1156.0L917.6 1158.5M971.1 1159.6L975.5 1154.1M1025.1 1148.0L1035.2 1129.4M1055.2 1128.3L1061.9 1138.0M1113.6 1155.2L1117.2 1159.3M1143.0 1160.2L1144.6 1158.7M1171.9 1158.2L1172.5 1158.7M1256.4 1173.0L1258.6 1170.7M1313.2 1146.9L1315.4 1144.5M1337.6 1147.4L1347.8 1166.1M1427.9 1167.6L1428.1 1167.7M1534.3 1153.1L1549.0 1115.2M1561.6 1115.6L1578.5 1169.3M1592.5 1170.3L1604.5 1145.1M1622.4 1144.3L1631.4 1159.6M1680.9 1174.6L1686.5 1167.0M1711.0 1165.6L1713.2 1167.9" stroke="#505050" stroke-width="2.2" fill="none"/>
<circle cx="305.5" cy="1094.9" r="13.3" fill="none" stroke="#505050" stroke-width="2.6"/>
<circle cx="333.9" cy="1022.1" r="13.3" fill="none" stroke="#505050" stroke-width="2.6"/>
<circle cx="362.3" cy="1160.8" r="13.3" fill="none" stroke="#505050" stroke-width="2.6"/>
<circle cx="390.8" cy="1091.5" r="13.3" fill="none" stroke="#505050" stroke-width="2.6"/>
<circle cx="419.2" cy="1129.2" r="13.3" fill="none" stroke="#505050" stroke-width="2.6"/>
<circle cx="447.6" cy="1163.2" r="13.3" fill="none" stroke="#505050" stroke-width="2.6"/>
<circle cx="476.0" cy="1160.8" r="13.3" fill="none" stroke="#505050" stroke-width="2.6"/>
<circle cx="532.8" cy="1166.8" r="13.3" fill="none" stroke="#505050" stroke-width="2.6"/>
<circle cx="561.3" cy="1157.8" r="13.3" fill="none" stroke="#505050" stroke-width="2.6"/>
<circle cx="589.7" cy="1128.6" r="13.3" fill="none" stroke="#505050" stroke-width="2.6"/>
<circle cx="618.1" cy="1111.1" r="13.3" fill="none" stroke="#505050" stroke-width="2.6"/>
<circle cx="674.9" cy="1164.8" r="13.3" fill="none" stroke="#505050" stroke-width="2.6"/>
<circle cx="703.3" cy="1131.6" r="13.3" fill="none" stroke="#505050" stroke-width="2.6"/>
<circle cx="731.8" cy="1120.6" r="13.3" fill="none" stroke="#505050" stroke-width="2.6"/>
<circle cx="760.2" cy="1176.8" r="13.3" fill="none" stroke="#505050" stroke-width="2.6"/>
<circle cx="788.6" cy="1183.9" r="13.3" fill="none" stroke="#505050" stroke-width="2.6"/>
<circle cx="817.0" cy="1139.3" r="13.3" fill="none" stroke="#505050" stroke-width="2.6"/>
<circle cx="845.4" cy="1145.7" r="13.3" fill="none" stroke="#505050" stroke-width="2.6"/>
<circle cx="873.8" cy="1120.6" r="13.3" fill="none" stroke="#505050" stroke-width="2.6"/>
<circle cx="902.3" cy="1142.1" r="13.3" fill="none" stroke="#505050" stroke-width="2.6"/>
<circle cx="930.7" cy="1172.4" r="13.3" fill="none" stroke="#505050" stroke-width="2.6"/>
<circle cx="959.1" cy="1174.4" r="13.3" fill="none" stroke="#505050" stroke-width="2.6"/>
<circle cx="987.5" cy="1139.3" r="13.3" fill="none" stroke="#505050" stroke-width="2.6"/>
<circle cx="1015.9" cy="1164.8" r="13.3" fill="none" stroke="#505050" stroke-width="2.6"/>
<circle cx="1044.3" cy="1112.6" r="13.3" fill="none" stroke="#505050" stroke-width="2.6"/>
<circle cx="1072.8" cy="1153.7" r="13.3" fill="none" stroke="#505050" stroke-width="2.6"/>
<circle cx="1101.2" cy="1140.7" r="13.3" fill="none" stroke="#505050" stroke-width="2.6"/>
<circle cx="1129.6" cy="1173.8" r="13.3" fill="none" stroke="#505050" stroke-width="2.6"/>
<circle cx="1158.0" cy="1145.1" r="13.3" fill="none" stroke="#505050" stroke-width="2.6"/>
<circle cx="1186.4" cy="1171.8" r="13.3" fill="none" stroke="#505050" stroke-width="2.6"/>
<circle cx="1214.8" cy="1178.9" r="13.3" fill="none" stroke="#505050" stroke-width="2.6"/>
<circle cx="1243.3" cy="1186.9" r="13.3" fill="none" stroke="#505050" stroke-width="2.6"/>
<circle cx="1271.7" cy="1156.8" r="13.3" fill="none" stroke="#505050" stroke-width="2.6"/>
<circle cx="1300.1" cy="1160.8" r="13.3" fill="none" stroke="#505050" stroke-width="2.6"/>
<circle cx="1328.5" cy="1130.6" r="13.3" fill="none" stroke="#505050" stroke-width="2.6"/>
<circle cx="1356.9" cy="1182.9" r="13.3" fill="none" stroke="#505050" stroke-width="2.6"/>
<circle cx="1385.3" cy="1168.8" r="13.3" fill="none" stroke="#505050" stroke-width="2.6"/>
<circle cx="1413.8" cy="1154.7" r="13.3" fill="none" stroke="#505050" stroke-width="2.6"/>
<circle cx="1442.2" cy="1180.6" r="13.3" fill="none" stroke="#505050" stroke-width="2.6"/>
<circle cx="1470.6" cy="1182.9" r="13.3" fill="none" stroke="#505050" stroke-width="2.6"/>
<circle cx="1499.0" cy="1171.4" r="13.3" fill="none" stroke="#505050" stroke-width="2.6"/>
<circle cx="1527.4" cy="1170.9" r="13.3" fill="none" stroke="#505050" stroke-width="2.6"/>
<circle cx="1555.8" cy="1097.4" r="13.3" fill="none" stroke="#505050" stroke-width="2.6"/>
<circle cx="1584.3" cy="1187.5" r="13.3" fill="none" stroke="#505050" stroke-width="2.6"/>
<circle cx="1612.7" cy="1127.9" r="13.3" fill="none" stroke="#505050" stroke-width="2.6"/>
<circle cx="1641.1" cy="1176.0" r="13.3" fill="none" stroke="#505050" stroke-width="2.6"/>
<circle cx="1669.5" cy="1189.9" r="13.3" fill="none" stroke="#505050" stroke-width="2.6"/>
<circle cx="1697.9" cy="1151.7" r="13.3" fill="none" stroke="#505050" stroke-width="2.6"/>
<circle cx="1726.4" cy="1181.8" r="13.3" fill="none" stroke="#505050" stroke-width="2.6"/>
<circle cx="1754.8" cy="1160.5" r="13.3" fill="none" stroke="#505050" stroke-width="2.6"/>
<circle cx="1783.2" cy="1185.9" r="13.3" fill="none" stroke="#505050" stroke-width="2.6"/>
<circle cx="1811.6" cy="1177.6" r="13.3" fill="none" stroke="#505050" stroke-width="2.6"/>
<circle cx="1840.0" cy="1162.8" r="13.3" fill="none" stroke="#505050" stroke-width="2.6"/>
<path d="M366.7 1169.7L386.4 1091.7M397.9 1091.5L412.0 1125.0M429.8 1158.9L437.0 1170.2M493.5 1187.0L515.4 1187.0M592.8 1151.4L614.9 1030.1M628.6 1029.5L664.4 1086.1M680.7 1120.1L697.5 1169.8M853.7 1170.0L865.6 1145.6M882.1 1145.6L894.0 1170.0M1140.6 1156.1L1147.0 1146.3M1166.4 1146.6L1178.0 1170.0M1306.9 1169.9L1321.7 1132.1M1335.3 1132.1L1350.2 1169.9" stroke="#FF0000" stroke-width="2.2" fill="none"/>
<rect x="293.9" y="1175.3" width="23.3" height="23.3" fill="none" stroke="#FF0000" stroke-width="2.6"/>
<rect x="322.3" y="1175.3" width="23.3" height="23.3" fill="none" stroke="#FF0000" stroke-width="2.6"/>
<rect x="350.7" y="1175.3" width="23.3" height="23.3" fill="none" stroke="#FF0000" stroke-width="2.6"/>
<rect x="379.1" y="1062.8" width="23.3" height="23.3" fill="none" stroke="#FF0000" stroke-width="2.6"/>
<rect x="407.5" y="1130.4" width="23.3" height="23.3" fill="none" stroke="#FF0000" stroke-width="2.6"/>
<rect x="435.9" y="1175.3" width="23.3" height="23.3" fill="none" stroke="#FF0000" stroke-width="2.6"/>
<rect x="464.4" y="1175.3" width="23.3" height="23.3" fill="none" stroke="#FF0000" stroke-width="2.6"/>
<rect x="521.2" y="1175.3" width="23.3" height="23.3" fill="none" stroke="#FF0000" stroke-width="2.6"/>
<rect x="549.6" y="1175.3" width="23.3" height="23.3" fill="none" stroke="#FF0000" stroke-width="2.6"/>
<rect x="578.0" y="1157.1" width="23.3" height="23.3" fill="none" stroke="#FF0000" stroke-width="2.6"/>
<rect x="606.4" y="1001.1" width="23.3" height="23.3" fill="none" stroke="#FF0000" stroke-width="2.6"/>
<rect x="663.3" y="1091.2" width="23.3" height="23.3" fill="none" stroke="#FF0000" stroke-width="2.6"/>
<rect x="691.7" y="1175.3" width="23.3" height="23.3" fill="none" stroke="#FF0000" stroke-width="2.6"/>
<rect x="720.1" y="1175.3" width="23.3" height="23.3" fill="none" stroke="#FF0000" stroke-width="2.6"/>
<rect x="748.5" y="1175.3" width="23.3" height="23.3" fill="none" stroke="#FF0000" stroke-width="2.6"/>
<rect x="776.9" y="1175.3" width="23.3" height="23.3" fill="none" stroke="#FF0000" stroke-width="2.6"/>
<rect x="805.4" y="1175.3" width="23.3" height="23.3" fill="none" stroke="#FF0000" stroke-width="2.6"/>
<rect x="833.8" y="1175.3" width="23.3" height="23.3" fill="none" stroke="#FF0000" stroke-width="2.6"/>
<rect x="862.2" y="1116.9" width="23.3" height="23.3" fill="none" stroke="#FF0000" stroke-width="2.6"/>
<rect x="890.6" y="1175.3" width="23.3" height="23.3" fill="none" stroke="#FF0000" stroke-width="2.6"/>
<rect x="919.0" y="1175.3" width="23.3" height="23.3" fill="none" stroke="#FF0000" stroke-width="2.6"/>
<rect x="947.4" y="1175.3" width="23.3" height="23.3" fill="none" stroke="#FF0000" stroke-width="2.6"/>
<rect x="975.9" y="1175.3" width="23.3" height="23.3" fill="none" stroke="#FF0000" stroke-width="2.6"/>
<rect x="1004.3" y="1175.3" width="23.3" height="23.3" fill="none" stroke="#FF0000" stroke-width="2.6"/>
<rect x="1032.7" y="1175.3" width="23.3" height="23.3" fill="none" stroke="#FF0000" stroke-width="2.6"/>
<rect x="1061.1" y="1175.3" width="23.3" height="23.3" fill="none" stroke="#FF0000" stroke-width="2.6"/>
<rect x="1089.5" y="1175.3" width="23.3" height="23.3" fill="none" stroke="#FF0000" stroke-width="2.6"/>
<rect x="1117.9" y="1161.1" width="23.3" height="23.3" fill="none" stroke="#FF0000" stroke-width="2.6"/>
<rect x="1146.4" y="1117.9" width="23.3" height="23.3" fill="none" stroke="#FF0000" stroke-width="2.6"/>
<rect x="1174.8" y="1175.3" width="23.3" height="23.3" fill="none" stroke="#FF0000" stroke-width="2.6"/>
<rect x="1203.2" y="1170.8" width="23.3" height="23.3" fill="none" stroke="#FF0000" stroke-width="2.6"/>
<rect x="1231.6" y="1175.3" width="23.3" height="23.3" fill="none" stroke="#FF0000" stroke-width="2.6"/>
<rect x="1260.0" y="1175.3" width="23.3" height="23.3" fill="none" stroke="#FF0000" stroke-width="2.6"/>
<rect x="1288.4" y="1175.3" width="23.3" height="23.3" fill="none" stroke="#FF0000" stroke-width="2.6"/>
<rect x="1316.9" y="1103.3" width="23.3" height="23.3" fill="none" stroke="#FF0000" stroke-width="2.6"/>
<rect x="1345.3" y="1175.3" width="23.3" height="23.3" fill="none" stroke="#FF0000" stroke-width="2.6"/>
<rect x="1373.7" y="1175.3" width="23.3" height="23.3" fill="none" stroke="#FF0000" stroke-width="2.6"/>
<rect x="1402.1" y="1175.3" width="23.3" height="23.3" fill="none" stroke="#FF0000" stroke-width="2.6"/>
<rect x="1430.5" y="1175.3" width="23.3" height="23.3" fill="none" stroke="#FF0000" stroke-width="2.6"/>
<rect x="1458.9" y="1175.3" width="23.3" height="23.3" fill="none" stroke="#FF0000" stroke-width="2.6"/>
<rect x="1487.4" y="1175.3" width="23.3" height="23.3" fill="none" stroke="#FF0000" stroke-width="2.6"/>
<rect x="1515.8" y="1175.3" width="23.3" height="23.3" fill="none" stroke="#FF0000" stroke-width="2.6"/>
<rect x="1544.2" y="1145.1" width="23.3" height="23.3" fill="none" stroke="#FF0000" stroke-width="2.6"/>
<rect x="1572.6" y="1175.3" width="23.3" height="23.3" fill="none" stroke="#FF0000" stroke-width="2.6"/>
<rect x="1601.0" y="1175.3" width="23.3" height="23.3" fill="none" stroke="#FF0000" stroke-width="2.6"/>
<rect x="1629.4" y="1175.3" width="23.3" height="23.3" fill="none" stroke="#FF0000" stroke-width="2.6"/>
<rect x="1657.9" y="1175.3" width="23.3" height="23.3" fill="none" stroke="#FF0000" stroke-width="2.6"/>
<rect x="1686.3" y="1175.3" width="23.3" height="23.3" fill="none" stroke="#FF0000" stroke-width="2.6"/>
<rect x="1714.7" y="1175.3" width="23.3" height="23.3" fill="none" stroke="#FF0000" stroke-width="2.6"/>
<rect x="1743.1" y="1175.3" width="23.3" height="23.3" fill="none" stroke="#FF0000" stroke-width="2.6"/>
<rect x="1771.5" y="1175.3" width="23.3" height="23.3" fill="none" stroke="#FF0000" stroke-width="2.6"/>
<rect x="1800.0" y="1165.5" width="23.3" height="23.3" fill="none" stroke="#FF0000" stroke-width="2.6"/>
<rect x="1828.4" y="1151.1" width="23.3" height="23.3" fill="none" stroke="#FF0000" stroke-width="2.6"/>
<path d="M1491.6 1002.0H1532.1M1567.3 1002.0H1607.8" stroke="#505050" stroke-width="2.2" fill="none"/>
<circle cx="1549.7" cy="1002.0" r="13.3" fill="none" stroke="#505050" stroke-width="2.6"/>
<text x="1619" y="1019" font-size="53">OC</text>
<path d="M1702.5 1002.0H1744.6M1776.5 1002.0H1818.7" stroke="#FF0000" stroke-width="2.2" fill="none"/>
<rect x="1748.9" y="990.4" width="23.3" height="23.3" fill="none" stroke="#FF0000" stroke-width="2.6"/>
<text x="1829" y="1019" font-size="53">EC</text>
<path d="M305.5 1811.6L333.9 1811.6L362.3 1812.2L390.8 1811.6L419.2 1811.0L447.6 1810.0L476.0 1810.5L532.8 1811.3L561.3 1811.3L589.7 1811.3L618.1 1808.0L674.9 1813.6L703.3 1812.4L731.8 1811.0L760.2 1816.0L788.6 1816.0L817.0 1811.0L845.4 1812.0L873.8 1808.4L902.3 1810.0L930.7 1812.4L959.1 1811.3L987.5 1811.3L1015.9 1812.0L1044.3 1810.0L1072.8 1811.5L1101.2 1808.0L1129.6 1813.0L1158.0 1811.6L1186.4 1811.6L1214.8 1810.7L1243.3 1809.0L1271.7 1803.6L1300.1 1807.0L1328.5 1808.0L1356.9 1810.0L1385.3 1810.0L1413.8 1810.7L1442.2 1812.7L1470.6 1812.7L1499.0 1814.0L1527.4 1812.7L1555.8 1813.3L1584.3 1816.2L1612.7 1813.3L1641.1 1813.3L1669.5 1814.8L1697.9 1815.8L1726.4 1815.3L1754.8 1814.3L1783.2 1815.0L1811.6 1815.3L1840.0 1814.8L1840.0 1821.7L1811.6 1821.7L1783.2 1821.7L1754.8 1821.7L1726.4 1821.7L1697.9 1821.7L1669.5 1821.7L1641.1 1821.7L1612.7 1821.7L1584.3 1821.7L1555.8 1821.7L1527.4 1821.7L1499.0 1821.7L1470.6 1821.7L1442.2 1821.7L1413.8 1821.7L1385.3 1821.7L1356.9 1821.7L1328.5 1821.7L1300.1 1821.7L1271.7 1821.7L1243.3 1821.7L1214.8 1821.7L1186.4 1821.7L1158.0 1821.7L1129.6 1821.7L1101.2 1821.7L1072.8 1821.7L1044.3 1821.7L1015.9 1821.7L987.5 1821.7L959.1 1821.7L930.7 1821.7L902.3 1821.7L873.8 1821.7L845.4 1821.7L817.0 1821.7L788.6 1821.7L760.2 1821.7L731.8 1821.7L703.3 1821.7L674.9 1821.7L618.1 1821.7L589.7 1821.7L561.3 1821.7L532.8 1821.7L476.0 1821.7L447.6 1821.7L419.2 1821.7L390.8 1821.7L362.3 1821.7L333.9 1821.7L305.5 1821.7Z" fill="#505050"/>
<path d="M305.5 1811.6L333.9 1811.6L362.3 1812.2L390.8 1811.6L419.2 1811.0L447.6 1810.0L476.0 1810.5L532.8 1811.3L561.3 1811.3L589.7 1811.3L618.1 1808.0L674.9 1813.6L703.3 1812.4L731.8 1805.0L760.2 1816.0L788.6 1816.0L817.0 1811.0L845.4 1812.0L873.8 1808.4L902.3 1810.0L930.7 1812.4L959.1 1811.3L987.5 1811.3L1015.9 1812.0L1044.3 1810.0L1072.8 1806.5L1101.2 1808.0L1129.6 1813.0L1158.0 1811.6L1186.4 1811.6L1214.8 1810.7L1243.3 1809.0L1271.7 1803.6L1300.1 1807.0L1328.5 1808.0L1356.9 1810.0L1385.3 1810.0L1413.8 1810.7L1442.2 1812.7L1470.6 1812.7L1499.0 1814.0L1527.4 1812.7L1555.8 1813.3L1584.3 1816.2L1612.7 1800.0L1641.1 1813.3L1669.5 1814.8L1697.9 1815.8L1726.4 1815.3L1754.8 1814.3L1783.2 1815.0L1811.6 1815.3L1840.0 1814.8L1840.0 1814.8L1811.6 1815.3L1783.2 1815.0L1754.8 1814.3L1726.4 1815.3L1697.9 1815.8L1669.5 1814.8L1641.1 1813.3L1612.7 1813.3L1584.3 1816.2L1555.8 1813.3L1527.4 1812.7L1499.0 1814.0L1470.6 1812.7L1442.2 1812.7L1413.8 1810.7L1385.3 1810.0L1356.9 1810.0L1328.5 1808.0L1300.1 1807.0L1271.7 1803.6L1243.3 1809.0L1214.8 1810.7L1186.4 1811.6L1158.0 1811.6L1129.6 1813.0L1101.2 1808.0L1072.8 1811.5L1044.3 1810.0L1015.9 1812.0L987.5 1811.3L959.1 1811.3L930.7 1812.4L902.3 1810.0L873.8 1808.4L845.4 1812.0L817.0 1811.0L788.6 1816.0L760.2 1816.0L731.8 1811.0L703.3 1812.4L674.9 1813.6L618.1 1808.0L589.7 1811.3L561.3 1811.3L532.8 1811.3L476.0 1810.5L447.6 1810.0L419.2 1811.0L390.8 1811.6L362.3 1812.2L333.9 1811.6L305.5 1811.6Z" fill="#FF4040"/>
<path d="M305.5 1784.2L333.9 1760.0L362.3 1786.7L390.8 1772.4L419.2 1784.2L447.6 1768.9L476.0 1785.7L532.8 1785.0L561.3 1771.8L589.7 1771.8L618.1 1745.4L674.9 1794.1L703.3 1790.5L731.8 1740.5L760.2 1801.4L788.6 1805.1L817.0 1723.5L845.4 1780.0L873.8 1660.0L902.3 1722.6L930.7 1803.9L959.1 1802.5L987.5 1804.0L1015.9 1801.0L1044.3 1716.0L1072.8 1670.1L1101.2 1740.2L1129.6 1806.0L1158.0 1807.1L1186.4 1803.6L1214.8 1800.0L1243.3 1785.7L1271.7 1719.6L1300.1 1744.6L1328.5 1760.7L1356.9 1804.6L1385.3 1797.8L1413.8 1801.9L1442.2 1808.0L1470.6 1807.3L1499.0 1811.4L1527.4 1795.1L1555.8 1665.6L1584.3 1814.3L1612.7 1773.6L1641.1 1811.4L1669.5 1811.7L1697.9 1814.8L1726.4 1809.7L1754.8 1799.4L1783.2 1813.8L1811.6 1810.7L1840.0 1810.2L1840.0 1814.8L1811.6 1815.3L1783.2 1815.0L1754.8 1814.3L1726.4 1815.3L1697.9 1815.8L1669.5 1814.8L1641.1 1813.3L1612.7 1800.0L1584.3 1816.2L1555.8 1813.3L1527.4 1812.7L1499.0 1814.0L1470.6 1812.7L1442.2 1812.7L1413.8 1810.7L1385.3 1810.0L1356.9 1810.0L1328.5 1808.0L1300.1 1807.0L1271.7 1803.6L1243.3 1809.0L1214.8 1810.7L1186.4 1811.6L1158.0 1811.6L1129.6 1813.0L1101.2 1808.0L1072.8 1806.5L1044.3 1810.0L1015.9 1812.0L987.5 1811.3L959.1 1811.3L930.7 1812.4L902.3 1810.0L873.8 1808.4L845.4 1812.0L817.0 1811.0L788.6 1816.0L760.2 1816.0L731.8 1805.0L703.3 1812.4L674.9 1813.6L618.1 1808.0L589.7 1811.3L561.3 1811.3L532.8 1811.3L476.0 1810.5L447.6 1810.0L419.2 1811.0L390.8 1811.6L362.3 1812.2L333.9 1811.6L305.5 1811.6Z" fill="#0068E0"/>
<path d="M305.5 1742.0L333.9 1703.3L362.3 1749.3L390.8 1734.4L419.2 1756.2L447.6 1713.4L476.0 1734.6L532.8 1735.3L561.3 1736.0L589.7 1737.5L618.1 1681.0L674.9 1745.4L703.3 1754.0L731.8 1640.7L760.2 1775.9L788.6 1778.3L817.0 1640.7L845.4 1731.0L873.8 1570.0L902.3 1646.0L930.7 1779.5L959.1 1780.6L987.5 1779.9L1015.9 1779.1L1044.3 1640.5L1072.8 1538.6L1101.2 1630.3L1129.6 1782.0L1158.0 1782.1L1186.4 1780.4L1214.8 1773.2L1243.3 1768.8L1271.7 1632.0L1300.1 1620.0L1328.5 1655.0L1356.9 1774.8L1385.3 1757.2L1413.8 1776.2L1442.2 1787.0L1470.6 1784.3L1499.0 1788.4L1527.4 1774.8L1555.8 1631.5L1584.3 1780.0L1612.7 1690.2L1641.1 1790.6L1669.5 1795.3L1697.9 1798.4L1726.4 1790.1L1754.8 1767.5L1783.2 1800.4L1811.6 1790.1L1840.0 1786.0L1840.0 1810.2L1811.6 1810.7L1783.2 1813.8L1754.8 1799.4L1726.4 1809.7L1697.9 1814.8L1669.5 1811.7L1641.1 1811.4L1612.7 1773.6L1584.3 1814.3L1555.8 1665.6L1527.4 1795.1L1499.0 1811.4L1470.6 1807.3L1442.2 1808.0L1413.8 1801.9L1385.3 1797.8L1356.9 1804.6L1328.5 1760.7L1300.1 1744.6L1271.7 1719.6L1243.3 1785.7L1214.8 1800.0L1186.4 1803.6L1158.0 1807.1L1129.6 1806.0L1101.2 1740.2L1072.8 1670.1L1044.3 1716.0L1015.9 1801.0L987.5 1804.0L959.1 1802.5L930.7 1803.9L902.3 1722.6L873.8 1660.0L845.4 1780.0L817.0 1723.5L788.6 1805.1L760.2 1801.4L731.8 1740.5L703.3 1790.5L674.9 1794.1L618.1 1745.4L589.7 1771.8L561.3 1771.8L532.8 1785.0L476.0 1785.7L447.6 1768.9L419.2 1784.2L390.8 1772.4L362.3 1786.7L333.9 1760.0L305.5 1784.2Z" fill="#00AA5F"/>
<path d="M305.5 1732.7L333.9 1695.4L362.3 1742.5L390.8 1727.2L419.2 1747.6L447.6 1704.5L476.0 1727.0L532.8 1727.3L561.3 1728.0L589.7 1729.5L618.1 1673.6L674.9 1740.1L703.3 1748.0L731.8 1631.3L760.2 1768.5L788.6 1770.9L817.0 1632.6L845.4 1725.0L873.8 1556.5L902.3 1637.2L930.7 1772.8L959.1 1772.6L987.5 1771.4L1015.9 1771.5L1044.3 1632.0L1072.8 1526.2L1101.2 1620.2L1129.6 1774.0L1158.0 1775.2L1186.4 1774.5L1214.8 1765.4L1243.3 1762.3L1271.7 1627.0L1300.1 1616.7L1328.5 1650.0L1356.9 1769.4L1385.3 1752.0L1413.8 1770.6L1442.2 1781.1L1470.6 1779.1L1499.0 1783.2L1527.4 1769.6L1555.8 1627.4L1584.3 1773.4L1612.7 1684.0L1641.1 1782.3L1669.5 1789.1L1697.9 1792.7L1726.4 1783.9L1754.8 1759.6L1783.2 1794.2L1811.6 1781.6L1840.0 1779.2L1840.0 1786.0L1811.6 1790.1L1783.2 1800.4L1754.8 1767.5L1726.4 1790.1L1697.9 1798.4L1669.5 1795.3L1641.1 1790.6L1612.7 1690.2L1584.3 1780.0L1555.8 1631.5L1527.4 1774.8L1499.0 1788.4L1470.6 1784.3L1442.2 1787.0L1413.8 1776.2L1385.3 1757.2L1356.9 1774.8L1328.5 1655.0L1300.1 1620.0L1271.7 1632.0L1243.3 1768.8L1214.8 1773.2L1186.4 1780.4L1158.0 1782.1L1129.6 1782.0L1101.2 1630.3L1072.8 1538.6L1044.3 1640.5L1015.9 1779.1L987.5 1779.9L959.1 1780.6L930.7 1779.5L902.3 1646.0L873.8 1570.0L845.4 1731.0L817.0 1640.7L788.6 1778.3L760.2 1775.9L731.8 1640.7L703.3 1754.0L674.9 1745.4L618.1 1681.0L589.7 1737.5L561.3 1736.0L532.8 1735.3L476.0 1734.6L447.6 1713.4L419.2 1756.2L390.8 1734.4L362.3 1749.3L333.9 1703.3L305.5 1742.0Z" fill="#C878E0"/>
<path d="M305.5 1725.0L333.9 1689.0L362.3 1737.0L390.8 1721.3L419.2 1740.6L447.6 1697.3L476.0 1720.7L532.8 1720.7L561.3 1721.4L589.7 1722.9L618.1 1667.5L674.9 1735.7L703.3 1743.0L731.8 1623.6L760.2 1762.5L788.6 1764.9L817.0 1626.0L845.4 1720.0L873.8 1545.5L902.3 1630.0L930.7 1767.3L959.1 1766.0L987.5 1764.5L1015.9 1765.3L1044.3 1625.0L1072.8 1516.1L1101.2 1612.0L1129.6 1767.5L1158.0 1769.6L1186.4 1769.6L1214.8 1759.0L1243.3 1757.0L1271.7 1623.0L1300.1 1614.0L1328.5 1646.0L1356.9 1765.0L1385.3 1747.8L1413.8 1766.0L1442.2 1776.2L1470.6 1774.8L1499.0 1778.9L1527.4 1765.4L1555.8 1624.0L1584.3 1768.0L1612.7 1678.9L1641.1 1775.5L1669.5 1784.0L1697.9 1788.0L1726.4 1778.8L1754.8 1753.1L1783.2 1789.1L1811.6 1774.7L1840.0 1773.7L1840.0 1779.2L1811.6 1781.6L1783.2 1794.2L1754.8 1759.6L1726.4 1783.9L1697.9 1792.7L1669.5 1789.1L1641.1 1782.3L1612.7 1684.0L1584.3 1773.4L1555.8 1627.4L1527.4 1769.6L1499.0 1783.2L1470.6 1779.1L1442.2 1781.1L1413.8 1770.6L1385.3 1752.0L1356.9 1769.4L1328.5 1650.0L1300.1 1616.7L1271.7 1627.0L1243.3 1762.3L1214.8 1765.4L1186.4 1774.5L1158.0 1775.2L1129.6 1774.0L1101.2 1620.2L1072.8 1526.2L1044.3 1632.0L1015.9 1771.5L987.5 1771.4L959.1 1772.6L930.7 1772.8L902.3 1637.2L873.8 1556.5L845.4 1725.0L817.0 1632.6L788.6 1770.9L760.2 1768.5L731.8 1631.3L703.3 1748.0L674.9 1740.1L618.1 1673.6L589.7 1729.5L561.3 1728.0L532.8 1727.3L476.0 1727.0L447.6 1704.5L419.2 1747.6L390.8 1727.2L362.3 1742.5L333.9 1695.4L305.5 1732.7Z" fill="#DE9B00"/>
<path d="M305.5 1701.4L333.9 1641.0L362.3 1715.7L390.8 1699.6L419.2 1724.5L447.6 1660.8L476.0 1655.7L532.8 1707.6L561.3 1709.7L589.7 1698.8L618.1 1580.0L674.9 1723.5L703.3 1721.0L731.8 1572.4L760.2 1750.3L788.6 1753.9L817.0 1572.4L845.4 1705.0L873.8 1496.8L902.3 1589.0L930.7 1747.8L959.1 1750.0L987.5 1744.0L1015.9 1750.7L1044.3 1600.0L1072.8 1469.4L1101.2 1588.8L1129.6 1747.0L1158.0 1758.0L1186.4 1757.0L1214.8 1741.0L1243.3 1737.5L1271.7 1556.3L1300.1 1525.5L1328.5 1590.0L1356.9 1749.1L1385.3 1725.4L1413.8 1755.9L1442.2 1768.7L1470.6 1764.7L1499.0 1765.4L1527.4 1723.4L1555.8 1576.6L1584.3 1760.0L1612.7 1627.7L1641.1 1758.4L1669.5 1773.7L1697.9 1775.7L1726.4 1761.3L1754.8 1720.2L1783.2 1776.8L1811.6 1760.3L1840.0 1759.3L1840.0 1773.7L1811.6 1774.7L1783.2 1789.1L1754.8 1753.1L1726.4 1778.8L1697.9 1788.0L1669.5 1784.0L1641.1 1775.5L1612.7 1678.9L1584.3 1768.0L1555.8 1624.0L1527.4 1765.4L1499.0 1778.9L1470.6 1774.8L1442.2 1776.2L1413.8 1766.0L1385.3 1747.8L1356.9 1765.0L1328.5 1646.0L1300.1 1614.0L1271.7 1623.0L1243.3 1757.0L1214.8 1759.0L1186.4 1769.6L1158.0 1769.6L1129.6 1767.5L1101.2 1612.0L1072.8 1516.1L1044.3 1625.0L1015.9 1765.3L987.5 1764.5L959.1 1766.0L930.7 1767.3L902.3 1630.0L873.8 1545.5L845.4 1720.0L817.0 1626.0L788.6 1764.9L760.2 1762.5L731.8 1623.6L703.3 1743.0L674.9 1735.7L618.1 1667.5L589.7 1722.9L561.3 1721.4L532.8 1720.7L476.0 1720.7L447.6 1697.3L419.2 1740.6L390.8 1721.3L362.3 1737.0L333.9 1689.0L305.5 1725.0Z" fill="#00CCCC"/>
<path d="M305.5 1695.2L333.9 1613.6L362.3 1702.0L390.8 1675.2L419.2 1707.0L447.6 1628.4L476.0 1599.9L532.8 1690.5L561.3 1683.9L589.7 1678.1L618.1 1510.2L674.9 1714.9L703.3 1707.6L731.8 1495.7L760.2 1744.2L788.6 1747.8L817.0 1476.2L845.4 1690.2L873.8 1387.2L902.3 1517.2L930.7 1738.2L959.1 1738.0L987.5 1731.4L1015.9 1743.1L1044.3 1521.2L1072.8 1401.9L1101.2 1512.2L1129.6 1740.2L1158.0 1742.7L1186.4 1738.7L1214.8 1724.4L1243.3 1728.0L1271.7 1475.2L1300.1 1472.2L1328.5 1484.0L1356.9 1730.2L1385.3 1695.5L1413.8 1742.2L1442.2 1763.2L1470.6 1757.1L1499.0 1757.1L1527.4 1670.5L1555.8 1536.1L1584.3 1755.8L1612.7 1511.5L1641.1 1742.6L1669.5 1767.7L1697.9 1772.3L1726.4 1751.2L1754.8 1693.6L1783.2 1772.8L1811.6 1753.3L1840.0 1749.2L1840.0 1759.3L1811.6 1760.3L1783.2 1776.8L1754.8 1720.2L1726.4 1761.3L1697.9 1775.7L1669.5 1773.7L1641.1 1758.4L1612.7 1627.7L1584.3 1760.0L1555.8 1576.6L1527.4 1723.4L1499.0 1765.4L1470.6 1764.7L1442.2 1768.7L1413.8 1755.9L1385.3 1725.4L1356.9 1749.1L1328.5 1590.0L1300.1 1525.5L1271.7 1556.3L1243.3 1737.5L1214.8 1741.0L1186.4 1757.0L1158.0 1758.0L1129.6 1747.0L1101.2 1588.8L1072.8 1469.4L1044.3 1600.0L1015.9 1750.7L987.5 1744.0L959.1 1750.0L930.7 1747.8L902.3 1589.0L873.8 1496.8L845.4 1705.0L817.0 1572.4L788.6 1753.9L760.2 1750.3L731.8 1572.4L703.3 1721.0L674.9 1723.5L618.1 1580.0L589.7 1698.8L561.3 1709.7L532.8 1707.6L476.0 1655.7L447.6 1660.8L419.2 1724.5L390.8 1699.6L362.3 1715.7L333.9 1641.0L305.5 1701.4Z" fill="#874848"/>
<path d="M305.5 1694.0L333.9 1612.4L362.3 1700.8L390.8 1674.0L419.2 1705.8L447.6 1627.2L476.0 1598.7L532.8 1689.3L561.3 1682.7L589.7 1676.9L618.1 1509.0L674.9 1713.7L703.3 1706.4L731.8 1494.5L760.2 1743.0L788.6 1746.6L817.0 1475.0L845.4 1689.0L873.8 1386.0L902.3 1516.0L930.7 1737.0L959.1 1736.8L987.5 1730.2L1015.9 1741.9L1044.3 1520.0L1072.8 1400.7L1101.2 1511.0L1129.6 1739.0L1158.0 1741.5L1186.4 1737.5L1214.8 1723.2L1243.3 1726.8L1271.7 1474.0L1300.1 1471.0L1328.5 1482.8L1356.9 1729.0L1385.3 1694.3L1413.8 1741.0L1442.2 1762.0L1470.6 1755.9L1499.0 1755.9L1527.4 1669.3L1555.8 1534.9L1584.3 1754.6L1612.7 1510.3L1641.1 1741.4L1669.5 1766.5L1697.9 1771.1L1726.4 1750.0L1754.8 1692.4L1783.2 1771.6L1811.6 1752.1L1840.0 1748.0L1840.0 1749.2L1811.6 1753.3L1783.2 1772.8L1754.8 1693.6L1726.4 1751.2L1697.9 1772.3L1669.5 1767.7L1641.1 1742.6L1612.7 1511.5L1584.3 1755.8L1555.8 1536.1L1527.4 1670.5L1499.0 1757.1L1470.6 1757.1L1442.2 1763.2L1413.8 1742.2L1385.3 1695.5L1356.9 1730.2L1328.5 1484.0L1300.1 1472.2L1271.7 1475.2L1243.3 1728.0L1214.8 1724.4L1186.4 1738.7L1158.0 1742.7L1129.6 1740.2L1101.2 1512.2L1072.8 1401.9L1044.3 1521.2L1015.9 1743.1L987.5 1731.4L959.1 1738.0L930.7 1738.2L902.3 1517.2L873.8 1387.2L845.4 1690.2L817.0 1476.2L788.6 1747.8L760.2 1744.2L731.8 1495.7L703.3 1707.6L674.9 1714.9L618.1 1510.2L589.7 1678.1L561.3 1683.9L532.8 1690.5L476.0 1599.9L447.6 1628.4L419.2 1707.0L390.8 1675.2L362.3 1702.0L333.9 1613.6L305.5 1695.2Z" fill="#888800"/>
<polyline points="305.5,1811.6 333.9,1811.6 362.3,1812.2 390.8,1811.6 419.2,1811.0 447.6,1810.0 476.0,1810.5 532.8,1811.3 561.3,1811.3 589.7,1811.3 618.1,1808.0 674.9,1813.6 703.3,1812.4 731.8,1811.0 760.2,1816.0 788.6,1816.0 817.0,1811.0 845.4,1812.0 873.8,1808.4 902.3,1810.0 930.7,1812.4 959.1,1811.3 987.5,1811.3 1015.9,1812.0 1044.3,1810.0 1072.8,1811.5 1101.2,1808.0 1129.6,1813.0 1158.0,1811.6 1186.4,1811.6 1214.8,1810.7 1243.3,1809.0 1271.7,1803.6 1300.1,1807.0 1328.5,1808.0 1356.9,1810.0 1385.3,1810.0 1413.8,1810.7 1442.2,1812.7 1470.6,1812.7 1499.0,1814.0 1527.4,1812.7 1555.8,1813.3 1584.3,1816.2 1612.7,1813.3 1641.1,1813.3 1669.5,1814.8 1697.9,1815.8 1726.4,1815.3 1754.8,1814.3 1783.2,1815.0 1811.6,1815.3 1840.0,1814.8" fill="none" stroke="#505050" stroke-width="3.0" stroke-linejoin="round"/><polyline points="305.5,1811.6 333.9,1811.6 362.3,1812.2 390.8,1811.6 419.2,1811.0 447.6,1810.0 476.0,1810.5 532.8,1811.3 561.3,1811.3 589.7,1811.3 618.1,1808.0 674.9,1813.6 703.3,1812.4 731.8,1805.0 760.2,1816.0 788.6,1816.0 817.0,1811.0 845.4,1812.0 873.8,1808.4 902.3,1810.0 930.7,1812.4 959.1,1811.3 987.5,1811.3 1015.9,1812.0 1044.3,1810.0 1072.8,1806.5 1101.2,1808.0 1129.6,1813.0 1158.0,1811.6 1186.4,1811.6 1214.8,1810.7 1243.3,1809.0 1271.7,1803.6 1300.1,1807.0 1328.5,1808.0 1356.9,1810.0 1385.3,1810.0 1413.8,1810.7 1442.2,1812.7 1470.6,1812.7 1499.0,1814.0 1527.4,1812.7 1555.8,1813.3 1584.3,1816.2 1612.7,1800.0 1641.1,1813.3 1669.5,1814.8 1697.9,1815.8 1726.4,1815.3 1754.8,1814.3 1783.2,1815.0 1811.6,1815.3 1840.0,1814.8" fill="none" stroke="#505050" stroke-width="3.0" stroke-linejoin="round"/><polyline points="305.5,1784.2 333.9,1760.0 362.3,1786.7 390.8,1772.4 419.2,1784.2 447.6,1768.9 476.0,1785.7 532.8,1785.0 561.3,1771.8 589.7,1771.8 618.1,1745.4 674.9,1794.1 703.3,1790.5 731.8,1740.5 760.2,1801.4 788.6,1805.1 817.0,1723.5 845.4,1780.0 873.8,1660.0 902.3,1722.6 930.7,1803.9 959.1,1802.5 987.5,1804.0 1015.9,1801.0 1044.3,1716.0 1072.8,1670.1 1101.2,1740.2 1129.6,1806.0 1158.0,1807.1 1186.4,1803.6 1214.8,1800.0 1243.3,1785.7 1271.7,1719.6 1300.1,1744.6 1328.5,1760.7 1356.9,1804.6 1385.3,1797.8 1413.8,1801.9 1442.2,1808.0 1470.6,1807.3 1499.0,1811.4 1527.4,1795.1 1555.8,1665.6 1584.3,1814.3 1612.7,1773.6 1641.1,1811.4 1669.5,1811.7 1697.9,1814.8 1726.4,1809.7 1754.8,1799.4 1783.2,1813.8 1811.6,1810.7 1840.0,1810.2" fill="none" stroke="#505050" stroke-width="3.0" stroke-linejoin="round"/><polyline points="305.5,1742.0 333.9,1703.3 362.3,1749.3 390.8,1734.4 419.2,1756.2 447.6,1713.4 476.0,1734.6 532.8,1735.3 561.3,1736.0 589.7,1737.5 618.1,1681.0 674.9,1745.4 703.3,1754.0 731.8,1640.7 760.2,1775.9 788.6,1778.3 817.0,1640.7 845.4,1731.0 873.8,1570.0 902.3,1646.0 930.7,1779.5 959.1,1780.6 987.5,1779.9 1015.9,1779.1 1044.3,1640.5 1072.8,1538.6 1101.2,1630.3 1129.6,1782.0 1158.0,1782.1 1186.4,1780.4 1214.8,1773.2 1243.3,1768.8 1271.7,1632.0 1300.1,1620.0 1328.5,1655.0 1356.9,1774.8 1385.3,1757.2 1413.8,1776.2 1442.2,1787.0 1470.6,1784.3 1499.0,1788.4 1527.4,1774.8 1555.8,1631.5 1584.3,1780.0 1612.7,1690.2 1641.1,1790.6 1669.5,1795.3 1697.9,1798.4 1726.4,1790.1 1754.8,1767.5 1783.2,1800.4 1811.6,1790.1 1840.0,1786.0" fill="none" stroke="#505050" stroke-width="3.0" stroke-linejoin="round"/><polyline points="305.5,1732.7 333.9,1695.4 362.3,1742.5 390.8,1727.2 419.2,1747.6 447.6,1704.5 476.0,1727.0 532.8,1727.3 561.3,1728.0 589.7,1729.5 618.1,1673.6 674.9,1740.1 703.3,1748.0 731.8,1631.3 760.2,1768.5 788.6,1770.9 817.0,1632.6 845.4,1725.0 873.8,1556.5 902.3,1637.2 930.7,1772.8 959.1,1772.6 987.5,1771.4 1015.9,1771.5 1044.3,1632.0 1072.8,1526.2 1101.2,1620.2 1129.6,1774.0 1158.0,1775.2 1186.4,1774.5 1214.8,1765.4 1243.3,1762.3 1271.7,1627.0 1300.1,1616.7 1328.5,1650.0 1356.9,1769.4 1385.3,1752.0 1413.8,1770.6 1442.2,1781.1 1470.6,1779.1 1499.0,1783.2 1527.4,1769.6 1555.8,1627.4 1584.3,1773.4 1612.7,1684.0 1641.1,1782.3 1669.5,1789.1 1697.9,1792.7 1726.4,1783.9 1754.8,1759.6 1783.2,1794.2 1811.6,1781.6 1840.0,1779.2" fill="none" stroke="#505050" stroke-width="3.0" stroke-linejoin="round"/><polyline points="305.5,1725.0 333.9,1689.0 362.3,1737.0 390.8,1721.3 419.2,1740.6 447.6,1697.3 476.0,1720.7 532.8,1720.7 561.3,1721.4 589.7,1722.9 618.1,1667.5 674.9,1735.7 703.3,1743.0 731.8,1623.6 760.2,1762.5 788.6,1764.9 817.0,1626.0 845.4,1720.0 873.8,1545.5 902.3,1630.0 930.7,1767.3 959.1,1766.0 987.5,1764.5 1015.9,1765.3 1044.3,1625.0 1072.8,1516.1 1101.2,1612.0 1129.6,1767.5 1158.0,1769.6 1186.4,1769.6 1214.8,1759.0 1243.3,1757.0 1271.7,1623.0 1300.1,1614.0 1328.5,1646.0 1356.9,1765.0 1385.3,1747.8 1413.8,1766.0 1442.2,1776.2 1470.6,1774.8 1499.0,1778.9 1527.4,1765.4 1555.8,1624.0 1584.3,1768.0 1612.7,1678.9 1641.1,1775.5 1669.5,1784.0 1697.9,1788.0 1726.4,1778.8 1754.8,1753.1 1783.2,1789.1 1811.6,1774.7 1840.0,1773.7" fill="none" stroke="#505050" stroke-width="3.0" stroke-linejoin="round"/><polyline points="305.5,1701.4 333.9,1641.0 362.3,1715.7 390.8,1699.6 419.2,1724.5 447.6,1660.8 476.0,1655.7 532.8,1707.6 561.3,1709.7 589.7,1698.8 618.1,1580.0 674.9,1723.5 703.3,1721.0 731.8,1572.4 760.2,1750.3 788.6,1753.9 817.0,1572.4 845.4,1705.0 873.8,1496.8 902.3,1589.0 930.7,1747.8 959.1,1750.0 987.5,1744.0 1015.9,1750.7 1044.3,1600.0 1072.8,1469.4 1101.2,1588.8 1129.6,1747.0 1158.0,1758.0 1186.4,1757.0 1214.8,1741.0 1243.3,1737.5 1271.7,1556.3 1300.1,1525.5 1328.5,1590.0 1356.9,1749.1 1385.3,1725.4 1413.8,1755.9 1442.2,1768.7 1470.6,1764.7 1499.0,1765.4 1527.4,1723.4 1555.8,1576.6 1584.3,1760.0 1612.7,1627.7 1641.1,1758.4 1669.5,1773.7 1697.9,1775.7 1726.4,1761.3 1754.8,1720.2 1783.2,1776.8 1811.6,1760.3 1840.0,1759.3" fill="none" stroke="#505050" stroke-width="3.0" stroke-linejoin="round"/><polyline points="305.5,1695.2 333.9,1613.6 362.3,1702.0 390.8,1675.2 419.2,1707.0 447.6,1628.4 476.0,1599.9 532.8,1690.5 561.3,1683.9 589.7,1678.1 618.1,1510.2 674.9,1714.9 703.3,1707.6 731.8,1495.7 760.2,1744.2 788.6,1747.8 817.0,1476.2 845.4,1690.2 873.8,1387.2 902.3,1517.2 930.7,1738.2 959.1,1738.0 987.5,1731.4 1015.9,1743.1 1044.3,1521.2 1072.8,1401.9 1101.2,1512.2 1129.6,1740.2 1158.0,1742.7 1186.4,1738.7 1214.8,1724.4 1243.3,1728.0 1271.7,1475.2 1300.1,1472.2 1328.5,1484.0 1356.9,1730.2 1385.3,1695.5 1413.8,1742.2 1442.2,1763.2 1470.6,1757.1 1499.0,1757.1 1527.4,1670.5 1555.8,1536.1 1584.3,1755.8 1612.7,1511.5 1641.1,1742.6 1669.5,1767.7 1697.9,1772.3 1726.4,1751.2 1754.8,1693.6 1783.2,1772.8 1811.6,1753.3 1840.0,1749.2" fill="none" stroke="#505050" stroke-width="3.0" stroke-linejoin="round"/><polyline points="305.5,1694.0 333.9,1612.4 362.3,1700.8 390.8,1674.0 419.2,1705.8 447.6,1627.2 476.0,1598.7 532.8,1689.3 561.3,1682.7 589.7,1676.9 618.1,1509.0 674.9,1713.7 703.3,1706.4 731.8,1494.5 760.2,1743.0 788.6,1746.6 817.0,1475.0 845.4,1689.0 873.8,1386.0 902.3,1516.0 930.7,1737.0 959.1,1736.8 987.5,1730.2 1015.9,1741.9 1044.3,1520.0 1072.8,1400.7 1101.2,1511.0 1129.6,1739.0 1158.0,1741.5 1186.4,1737.5 1214.8,1723.2 1243.3,1726.8 1271.7,1474.0 1300.1,1471.0 1328.5,1482.8 1356.9,1729.0 1385.3,1694.3 1413.8,1741.0 1442.2,1762.0 1470.6,1755.9 1499.0,1755.9 1527.4,1669.3 1555.8,1534.9 1584.3,1754.6 1612.7,1510.3 1641.1,1741.4 1669.5,1766.5 1697.9,1771.1 1726.4,1750.0 1754.8,1692.4 1783.2,1771.6 1811.6,1752.1 1840.0,1748.0" fill="none" stroke="#505050" stroke-width="3.0" stroke-linejoin="round"/>
<line x1="305.5" y1="1694.0" x2="305.5" y2="1821.7" stroke="#505050" stroke-width="3.0"/>
<line x1="1840.0" y1="1748.0" x2="1840.0" y2="1821.7" stroke="#505050" stroke-width="3.0"/>
<path d="M305.5,1570.4L309.0,1580.3L319.5,1580.6L311.1,1586.9L314.1,1597.0L305.5,1591.0L296.9,1597.0L299.9,1586.9L291.5,1580.6L302.0,1580.3Z" fill="#fff" stroke="#FF8A5B" stroke-width="2.6" stroke-linejoin="miter" stroke-miterlimit="10"/><path d="M333.9,1578.0L337.4,1587.9L347.9,1588.2L339.5,1594.5L342.6,1604.6L333.9,1598.6L325.3,1604.6L328.3,1594.5L319.9,1588.2L330.5,1587.9Z" fill="#fff" stroke="#FF8A5B" stroke-width="2.6" stroke-linejoin="miter" stroke-miterlimit="10"/><path d="M362.3,1476.1L365.8,1486.0L376.3,1486.3L367.9,1492.6L371.0,1502.7L362.3,1496.7L353.7,1502.7L356.7,1492.6L348.4,1486.3L358.9,1486.0Z" fill="#fff" stroke="#FF8A5B" stroke-width="2.6" stroke-linejoin="miter" stroke-miterlimit="10"/><path d="M390.8,1413.7L394.2,1423.6L404.7,1423.9L396.3,1430.2L399.4,1440.3L390.8,1434.3L382.1,1440.3L385.2,1430.2L376.8,1423.9L387.3,1423.6Z" fill="#fff" stroke="#FF8A5B" stroke-width="2.6" stroke-linejoin="miter" stroke-miterlimit="10"/><path d="M419.2,1460.4L422.6,1470.3L433.1,1470.6L424.8,1476.9L427.8,1487.0L419.2,1481.0L410.5,1487.0L413.6,1476.9L405.2,1470.6L415.7,1470.3Z" fill="#fff" stroke="#FF8A5B" stroke-width="2.6" stroke-linejoin="miter" stroke-miterlimit="10"/><path d="M447.6,1516.2L451.0,1526.1L461.6,1526.4L453.2,1532.7L456.2,1542.8L447.6,1536.8L438.9,1542.8L442.0,1532.7L433.6,1526.4L444.1,1526.1Z" fill="#fff" stroke="#FF8A5B" stroke-width="2.6" stroke-linejoin="miter" stroke-miterlimit="10"/><path d="M476.0,1538.8L479.5,1548.7L490.0,1549.0L481.6,1555.3L484.6,1565.4L476.0,1559.4L467.4,1565.4L470.4,1555.3L462.0,1549.0L472.5,1548.7Z" fill="#fff" stroke="#FF8A5B" stroke-width="2.6" stroke-linejoin="miter" stroke-miterlimit="10"/><path d="M532.8,1617.8L536.3,1627.7L546.8,1628.0L538.4,1634.3L541.5,1644.4L532.8,1638.4L524.2,1644.4L527.2,1634.3L518.9,1628.0L529.4,1627.7Z" fill="#fff" stroke="#FF8A5B" stroke-width="2.6" stroke-linejoin="miter" stroke-miterlimit="10"/><path d="M561.3,1570.4L564.7,1580.3L575.2,1580.6L566.8,1586.9L569.9,1597.0L561.3,1591.0L552.6,1597.0L555.7,1586.9L547.3,1580.6L557.8,1580.3Z" fill="#fff" stroke="#FF8A5B" stroke-width="2.6" stroke-linejoin="miter" stroke-miterlimit="10"/><path d="M589.7,1531.3L593.1,1541.2L603.7,1541.5L595.3,1547.8L598.3,1557.9L589.7,1551.9L581.0,1557.9L584.1,1547.8L575.7,1541.5L586.2,1541.2Z" fill="#fff" stroke="#FF8A5B" stroke-width="2.6" stroke-linejoin="miter" stroke-miterlimit="10"/><path d="M618.1,1562.9L621.5,1572.8L632.1,1573.1L623.7,1579.4L626.7,1589.5L618.1,1583.5L609.4,1589.5L612.5,1579.4L604.1,1573.1L614.6,1572.8Z" fill="#fff" stroke="#FF8A5B" stroke-width="2.6" stroke-linejoin="miter" stroke-miterlimit="10"/><path d="M674.9,1507.1L678.4,1517.0L688.9,1517.3L680.5,1523.6L683.6,1533.7L674.9,1527.7L666.3,1533.7L669.3,1523.6L660.9,1517.3L671.5,1517.0Z" fill="#fff" stroke="#FF8A5B" stroke-width="2.6" stroke-linejoin="miter" stroke-miterlimit="10"/><path d="M703.3,1531.3L706.8,1541.2L717.3,1541.5L708.9,1547.8L712.0,1557.9L703.3,1551.9L694.7,1557.9L697.7,1547.8L689.4,1541.5L699.9,1541.2Z" fill="#fff" stroke="#FF8A5B" stroke-width="2.6" stroke-linejoin="miter" stroke-miterlimit="10"/><path d="M731.8,1641.9L735.2,1651.8L745.7,1652.1L737.3,1658.4L740.4,1668.5L731.8,1662.5L723.1,1668.5L726.2,1658.4L717.8,1652.1L728.3,1651.8Z" fill="#fff" stroke="#FF8A5B" stroke-width="2.6" stroke-linejoin="miter" stroke-miterlimit="10"/><path d="M760.2,1617.8L763.6,1627.7L774.2,1628.0L765.8,1634.3L768.8,1644.4L760.2,1638.4L751.5,1644.4L754.6,1634.3L746.2,1628.0L756.7,1627.7Z" fill="#fff" stroke="#FF8A5B" stroke-width="2.6" stroke-linejoin="miter" stroke-miterlimit="10"/><path d="M788.6,1641.5L792.0,1651.4L802.6,1651.7L794.2,1658.0L797.2,1668.1L788.6,1662.1L779.9,1668.1L783.0,1658.0L774.6,1651.7L785.1,1651.4Z" fill="#fff" stroke="#FF8A5B" stroke-width="2.6" stroke-linejoin="miter" stroke-miterlimit="10"/><path d="M817.0,1586.5L820.5,1596.4L831.0,1596.7L822.6,1603.0L825.6,1613.1L817.0,1607.1L808.4,1613.1L811.4,1603.0L803.0,1596.7L813.5,1596.4Z" fill="#fff" stroke="#FF8A5B" stroke-width="2.6" stroke-linejoin="miter" stroke-miterlimit="10"/><path d="M845.4,1547.0L848.9,1556.9L859.4,1557.2L851.0,1563.5L854.1,1573.6L845.4,1567.6L836.8,1573.6L839.8,1563.5L831.4,1557.2L842.0,1556.9Z" fill="#fff" stroke="#FF8A5B" stroke-width="2.6" stroke-linejoin="miter" stroke-miterlimit="10"/><path d="M873.8,1468.0L877.3,1477.9L887.8,1478.2L879.4,1484.5L882.5,1494.6L873.8,1488.6L865.2,1494.6L868.2,1484.5L859.9,1478.2L870.4,1477.9Z" fill="#fff" stroke="#FF8A5B" stroke-width="2.6" stroke-linejoin="miter" stroke-miterlimit="10"/><path d="M902.3,1571.1L905.7,1581.0L916.2,1581.3L907.8,1587.6L910.9,1597.7L902.3,1591.7L893.6,1597.7L896.7,1587.6L888.3,1581.3L898.8,1581.0Z" fill="#fff" stroke="#FF8A5B" stroke-width="2.6" stroke-linejoin="miter" stroke-miterlimit="10"/><path d="M930.7,1531.4L934.1,1541.3L944.7,1541.6L936.3,1547.9L939.3,1558.0L930.7,1552.0L922.0,1558.0L925.1,1547.9L916.7,1541.6L927.2,1541.3Z" fill="#fff" stroke="#FF8A5B" stroke-width="2.6" stroke-linejoin="miter" stroke-miterlimit="10"/><path d="M959.1,1641.1L962.5,1651.0L973.1,1651.3L964.7,1657.6L967.7,1667.7L959.1,1661.7L950.5,1667.7L953.5,1657.6L945.1,1651.3L955.6,1651.0Z" fill="#fff" stroke="#FF8A5B" stroke-width="2.6" stroke-linejoin="miter" stroke-miterlimit="10"/><path d="M987.5,1625.2L991.0,1635.1L1001.5,1635.4L993.1,1641.7L996.1,1651.8L987.5,1645.8L978.9,1651.8L981.9,1641.7L973.5,1635.4L984.1,1635.1Z" fill="#fff" stroke="#FF8A5B" stroke-width="2.6" stroke-linejoin="miter" stroke-miterlimit="10"/><path d="M1015.9,1657.3L1019.4,1667.2L1029.9,1667.5L1021.5,1673.8L1024.6,1683.9L1015.9,1677.9L1007.3,1683.9L1010.3,1673.8L1001.9,1667.5L1012.5,1667.2Z" fill="#fff" stroke="#FF8A5B" stroke-width="2.6" stroke-linejoin="miter" stroke-miterlimit="10"/><path d="M1044.3,1570.4L1047.8,1580.3L1058.3,1580.6L1049.9,1586.9L1053.0,1597.0L1044.3,1591.0L1035.7,1597.0L1038.7,1586.9L1030.4,1580.6L1040.9,1580.3Z" fill="#fff" stroke="#FF8A5B" stroke-width="2.6" stroke-linejoin="miter" stroke-miterlimit="10"/><path d="M1072.8,1593.7L1076.2,1603.6L1086.7,1603.9L1078.4,1610.2L1081.4,1620.3L1072.8,1614.3L1064.1,1620.3L1067.2,1610.2L1058.8,1603.9L1069.3,1603.6Z" fill="#fff" stroke="#FF8A5B" stroke-width="2.6" stroke-linejoin="miter" stroke-miterlimit="10"/><path d="M1101.2,1610.1L1104.6,1620.0L1115.2,1620.3L1106.8,1626.6L1109.8,1636.7L1101.2,1630.7L1092.5,1636.7L1095.6,1626.6L1087.2,1620.3L1097.7,1620.0Z" fill="#fff" stroke="#FF8A5B" stroke-width="2.6" stroke-linejoin="miter" stroke-miterlimit="10"/><path d="M1129.6,1578.4L1133.0,1588.3L1143.6,1588.6L1135.2,1594.9L1138.2,1605.0L1129.6,1599.0L1121.0,1605.0L1124.0,1594.9L1115.6,1588.6L1126.1,1588.3Z" fill="#fff" stroke="#FF8A5B" stroke-width="2.6" stroke-linejoin="miter" stroke-miterlimit="10"/><path d="M1158.0,1546.8L1161.5,1556.7L1172.0,1557.0L1163.6,1563.3L1166.7,1573.4L1158.0,1567.4L1149.4,1573.4L1152.4,1563.3L1144.0,1557.0L1154.6,1556.7Z" fill="#fff" stroke="#FF8A5B" stroke-width="2.6" stroke-linejoin="miter" stroke-miterlimit="10"/><path d="M1186.4,1546.8L1189.9,1556.7L1200.4,1557.0L1192.0,1563.3L1195.1,1573.4L1186.4,1567.4L1177.8,1573.4L1180.8,1563.3L1172.4,1557.0L1183.0,1556.7Z" fill="#fff" stroke="#FF8A5B" stroke-width="2.6" stroke-linejoin="miter" stroke-miterlimit="10"/><path d="M1214.8,1642.4L1218.3,1652.3L1228.8,1652.6L1220.4,1658.9L1223.5,1669.0L1214.8,1663.0L1206.2,1669.0L1209.3,1658.9L1200.9,1652.6L1211.4,1652.3Z" fill="#fff" stroke="#FF8A5B" stroke-width="2.6" stroke-linejoin="miter" stroke-miterlimit="10"/><path d="M1243.3,1649.5L1246.7,1659.4L1257.2,1659.7L1248.9,1666.0L1251.9,1676.1L1243.3,1670.1L1234.6,1676.1L1237.7,1666.0L1229.3,1659.7L1239.8,1659.4Z" fill="#fff" stroke="#FF8A5B" stroke-width="2.6" stroke-linejoin="miter" stroke-miterlimit="10"/><path d="M1271.7,1562.4L1275.1,1572.3L1285.7,1572.6L1277.3,1578.9L1280.3,1589.0L1271.7,1583.0L1263.0,1589.0L1266.1,1578.9L1257.7,1572.6L1268.2,1572.3Z" fill="#fff" stroke="#FF8A5B" stroke-width="2.6" stroke-linejoin="miter" stroke-miterlimit="10"/><path d="M1300.1,1593.8L1303.6,1603.7L1314.1,1604.0L1305.7,1610.3L1308.7,1620.4L1300.1,1614.4L1291.5,1620.4L1294.5,1610.3L1286.1,1604.0L1296.6,1603.7Z" fill="#fff" stroke="#FF8A5B" stroke-width="2.6" stroke-linejoin="miter" stroke-miterlimit="10"/><path d="M1328.5,1515.7L1332.0,1525.6L1342.5,1525.9L1334.1,1532.2L1337.2,1542.3L1328.5,1536.3L1319.9,1542.3L1322.9,1532.2L1314.5,1525.9L1325.1,1525.6Z" fill="#fff" stroke="#FF8A5B" stroke-width="2.6" stroke-linejoin="miter" stroke-miterlimit="10"/><path d="M1356.9,1531.5L1360.4,1541.4L1370.9,1541.7L1362.5,1548.0L1365.6,1558.1L1356.9,1552.1L1348.3,1558.1L1351.3,1548.0L1342.9,1541.7L1353.5,1541.4Z" fill="#fff" stroke="#FF8A5B" stroke-width="2.6" stroke-linejoin="miter" stroke-miterlimit="10"/><path d="M1385.3,1579.5L1388.8,1589.4L1399.3,1589.7L1390.9,1596.0L1394.0,1606.1L1385.3,1600.1L1376.7,1606.1L1379.8,1596.0L1371.4,1589.7L1381.9,1589.4Z" fill="#fff" stroke="#FF8A5B" stroke-width="2.6" stroke-linejoin="miter" stroke-miterlimit="10"/><path d="M1413.8,1649.5L1417.2,1659.4L1427.7,1659.7L1419.4,1666.0L1422.4,1676.1L1413.8,1670.1L1405.1,1676.1L1408.2,1666.0L1399.8,1659.7L1410.3,1659.4Z" fill="#fff" stroke="#FF8A5B" stroke-width="2.6" stroke-linejoin="miter" stroke-miterlimit="10"/><path d="M1442.2,1657.6L1445.6,1667.5L1456.2,1667.8L1447.8,1674.1L1450.8,1684.2L1442.2,1678.2L1433.5,1684.2L1436.6,1674.1L1428.2,1667.8L1438.7,1667.5Z" fill="#fff" stroke="#FF8A5B" stroke-width="2.6" stroke-linejoin="miter" stroke-miterlimit="10"/><path d="M1470.6,1642.1L1474.1,1652.0L1484.6,1652.3L1476.2,1658.6L1479.2,1668.7L1470.6,1662.7L1462.0,1668.7L1465.0,1658.6L1456.6,1652.3L1467.1,1652.0Z" fill="#fff" stroke="#FF8A5B" stroke-width="2.6" stroke-linejoin="miter" stroke-miterlimit="10"/><path d="M1499.0,1602.3L1502.5,1612.2L1513.0,1612.5L1504.6,1618.8L1507.7,1628.9L1499.0,1622.9L1490.4,1628.9L1493.4,1618.8L1485.0,1612.5L1495.6,1612.2Z" fill="#fff" stroke="#FF8A5B" stroke-width="2.6" stroke-linejoin="miter" stroke-miterlimit="10"/><path d="M1527.4,1641.6L1530.9,1651.5L1541.4,1651.8L1533.0,1658.1L1536.1,1668.2L1527.4,1662.2L1518.8,1668.2L1521.8,1658.1L1513.5,1651.8L1524.0,1651.5Z" fill="#fff" stroke="#FF8A5B" stroke-width="2.6" stroke-linejoin="miter" stroke-miterlimit="10"/><path d="M1555.8,1594.0L1559.3,1603.9L1569.8,1604.2L1561.4,1610.5L1564.5,1620.6L1555.8,1614.6L1547.2,1620.6L1550.3,1610.5L1541.9,1604.2L1552.4,1603.9Z" fill="#fff" stroke="#FF8A5B" stroke-width="2.6" stroke-linejoin="miter" stroke-miterlimit="10"/><path d="M1584.3,1641.2L1587.7,1651.1L1598.2,1651.4L1589.9,1657.7L1592.9,1667.8L1584.3,1661.8L1575.6,1667.8L1578.7,1657.7L1570.3,1651.4L1580.8,1651.1Z" fill="#fff" stroke="#FF8A5B" stroke-width="2.6" stroke-linejoin="miter" stroke-miterlimit="10"/><path d="M1612.7,1657.3L1616.1,1667.2L1626.7,1667.5L1618.3,1673.8L1621.3,1683.9L1612.7,1677.9L1604.0,1683.9L1607.1,1673.8L1598.7,1667.5L1609.2,1667.2Z" fill="#fff" stroke="#FF8A5B" stroke-width="2.6" stroke-linejoin="miter" stroke-miterlimit="10"/><path d="M1641.1,1648.8L1644.6,1658.7L1655.1,1659.0L1646.7,1665.3L1649.7,1675.4L1641.1,1669.4L1632.5,1675.4L1635.5,1665.3L1627.1,1659.0L1637.6,1658.7Z" fill="#fff" stroke="#FF8A5B" stroke-width="2.6" stroke-linejoin="miter" stroke-miterlimit="10"/><path d="M1669.5,1657.4L1673.0,1667.3L1683.5,1667.6L1675.1,1673.9L1678.2,1684.0L1669.5,1678.0L1660.9,1684.0L1663.9,1673.9L1655.5,1667.6L1666.1,1667.3Z" fill="#fff" stroke="#FF8A5B" stroke-width="2.6" stroke-linejoin="miter" stroke-miterlimit="10"/><path d="M1697.9,1602.4L1701.4,1612.3L1711.9,1612.6L1703.5,1618.9L1706.6,1629.0L1697.9,1623.0L1689.3,1629.0L1692.3,1618.9L1684.0,1612.6L1694.5,1612.3Z" fill="#fff" stroke="#FF8A5B" stroke-width="2.6" stroke-linejoin="miter" stroke-miterlimit="10"/><path d="M1726.4,1665.4L1729.8,1675.3L1740.3,1675.6L1731.9,1681.9L1735.0,1692.0L1726.4,1686.0L1717.7,1692.0L1720.8,1681.9L1712.4,1675.6L1722.9,1675.3Z" fill="#fff" stroke="#FF8A5B" stroke-width="2.6" stroke-linejoin="miter" stroke-miterlimit="10"/><path d="M1754.8,1609.9L1758.2,1619.8L1768.7,1620.1L1760.4,1626.4L1763.4,1636.5L1754.8,1630.5L1746.1,1636.5L1749.2,1626.4L1740.8,1620.1L1751.3,1619.8Z" fill="#fff" stroke="#FF8A5B" stroke-width="2.6" stroke-linejoin="miter" stroke-miterlimit="10"/><path d="M1783.2,1609.9L1786.6,1619.8L1797.2,1620.1L1788.8,1626.4L1791.8,1636.5L1783.2,1630.5L1774.5,1636.5L1777.6,1626.4L1769.2,1620.1L1779.7,1619.8Z" fill="#fff" stroke="#FF8A5B" stroke-width="2.6" stroke-linejoin="miter" stroke-miterlimit="10"/><path d="M1811.6,1586.9L1815.1,1596.8L1825.6,1597.1L1817.2,1603.4L1820.2,1613.5L1811.6,1607.5L1803.0,1613.5L1806.0,1603.4L1797.6,1597.1L1808.1,1596.8Z" fill="#fff" stroke="#FF8A5B" stroke-width="2.6" stroke-linejoin="miter" stroke-miterlimit="10"/><path d="M1840.0,1562.8L1843.5,1572.7L1854.0,1573.0L1845.6,1579.3L1848.7,1589.4L1840.0,1583.4L1831.4,1589.4L1834.4,1579.3L1826.0,1573.0L1836.6,1572.7Z" fill="#fff" stroke="#FF8A5B" stroke-width="2.6" stroke-linejoin="miter" stroke-miterlimit="10"/>
<rect x="322.2" y="1287.4" width="97.3" height="46.7" rx="2" fill="#505050" stroke="#505050" stroke-width="2.2"/>
<text x="431.9" y="1325.8" text-anchor="start" fill="#000" font-size="44.5" >3-MeTHF-3,4-diol</text>
<rect x="801.5" y="1287.4" width="97.6" height="46.7" rx="2" fill="#FF4040" stroke="#505050" stroke-width="2.2"/>
<text x="910.8" y="1325.8" text-anchor="start" fill="#000" font-size="44.5" >2-MG</text>
<rect x="1055.4" y="1287.4" width="97.1" height="46.7" rx="2" fill="#0068E0" stroke="#505050" stroke-width="2.2"/>
<text x="1163.6" y="1325.8" text-anchor="start" fill="#000" font-size="44.5" >C<tspan dy="10.5" font-size="29">5</tspan><tspan dy="-10.5">-alkene triols</tspan></text>
<rect x="1479.3" y="1287.4" width="97.0" height="46.7" rx="2" fill="#00AA5F" stroke="#505050" stroke-width="2.2"/>
<text x="1587.7" y="1325.8" text-anchor="start" fill="#000" font-size="44.5" >2-MTs</text>
<rect x="322.2" y="1352.5" width="97.3" height="47.7" rx="2" fill="#C878E0" stroke="#505050" stroke-width="2.2"/>
<text x="432.9" y="1389.6" text-anchor="start" fill="#000" font-size="44.5" >PNA</text>
<rect x="555.0" y="1352.5" width="97.3" height="47.7" rx="2" fill="#DE9B00" stroke="#505050" stroke-width="2.2"/>
<text x="665" y="1389.6" text-anchor="start" fill="#000" font-size="44.5" >PA</text>
<rect x="744.8" y="1352.5" width="97.3" height="47.7" rx="2" fill="#00CCCC" stroke="#505050" stroke-width="2.2"/>
<text x="853.9" y="1389.6" text-anchor="start" fill="#000" font-size="44.5" >3-HGA</text>
<rect x="1000.4" y="1352.5" width="97.0" height="47.7" rx="2" fill="#874848" stroke="#505050" stroke-width="2.2"/>
<text x="1111.3" y="1389.6" text-anchor="start" fill="#000" font-size="44.5" >MBTCA</text>
<rect x="1302.5" y="1352.5" width="97.4" height="47.7" rx="2" fill="#888800" stroke="#505050" stroke-width="2.2"/>
<text x="1412.2" y="1389.6" text-anchor="start" fill="#000" font-size="44.5" >BSOA<tspan dy="11" font-size="29">C</tspan></text>
<path d="M1630.3,1362.1L1634.4,1374.0L1647.0,1374.3L1637.0,1381.9L1640.6,1393.9L1630.3,1386.7L1620.0,1393.9L1623.6,1381.9L1613.6,1374.3L1626.2,1374.0Z" fill="#fff" stroke="#FF8A5B" stroke-width="3" stroke-miterlimit="10"/>
<text x="1672.3" y="1397.7" text-anchor="start" fill="#000" font-size="44.5" >PM<tspan dy="11" font-size="29">2.5</tspan></text>
<line x1="197" y1="297" x2="1945" y2="297" stroke="#000" stroke-width="10"/>
<line x1="202" y1="25" x2="202" y2="302" stroke="#000" stroke-width="10"/>
<line x1="197" y1="30" x2="1945" y2="30" stroke="#000" stroke-width="10"/>
<line x1="1945" y1="25" x2="1945" y2="302" stroke="#0000FF" stroke-width="10"/>
<line x1="185" y1="30" x2="197" y2="30" stroke="#000" stroke-width="10"/>
<line x1="185" y1="119" x2="197" y2="119" stroke="#000" stroke-width="10"/>
<line x1="185" y1="208" x2="197" y2="208" stroke="#000" stroke-width="10"/>
<line x1="185" y1="297" x2="197" y2="297" stroke="#000" stroke-width="10"/>
<line x1="1950" y1="54.1" x2="1961" y2="54.1" stroke="#0000FF" stroke-width="10"/>
<line x1="1950" y1="151" x2="1961" y2="151" stroke="#0000FF" stroke-width="10"/>
<line x1="1950" y1="248.8" x2="1961" y2="248.8" stroke="#0000FF" stroke-width="10"/>
<line x1="197" y1="607" x2="1945" y2="607" stroke="#000" stroke-width="10"/>
<line x1="202" y1="333" x2="202" y2="612" stroke="#000" stroke-width="10"/>
<line x1="197" y1="338" x2="1945" y2="338" stroke="#000" stroke-width="10"/>
<line x1="1945" y1="333" x2="1945" y2="612" stroke="#0000FF" stroke-width="10"/>
<line x1="185" y1="382.8" x2="197" y2="382.8" stroke="#000" stroke-width="10"/>
<line x1="185" y1="503" x2="197" y2="503" stroke="#000" stroke-width="10"/>
<line x1="192" y1="442.9" x2="197" y2="442.9" stroke="#000" stroke-width="10"/>
<line x1="192" y1="563.1" x2="197" y2="563.1" stroke="#000" stroke-width="10"/>
<line x1="1950" y1="401" x2="1961" y2="401" stroke="#0000FF" stroke-width="10"/>
<line x1="1950" y1="503" x2="1961" y2="503" stroke="#0000FF" stroke-width="10"/>
<line x1="1950" y1="605.5" x2="1961" y2="605.5" stroke="#0000FF" stroke-width="10"/>
<line x1="197" y1="920" x2="1945" y2="920" stroke="#000" stroke-width="10"/>
<line x1="202" y1="647" x2="202" y2="925" stroke="#000" stroke-width="10"/>
<line x1="197" y1="652" x2="1945" y2="652" stroke="#000" stroke-width="10"/>
<line x1="1945" y1="647" x2="1945" y2="925" stroke="#C8B4D8" stroke-width="10"/>
<line x1="185" y1="681.3" x2="197" y2="681.3" stroke="#000" stroke-width="10"/>
<line x1="185" y1="769.7" x2="197" y2="769.7" stroke="#000" stroke-width="10"/>
<line x1="185" y1="859.8" x2="197" y2="859.8" stroke="#000" stroke-width="10"/>
<line x1="1950" y1="715.4" x2="1961" y2="715.4" stroke="#C8B4D8" stroke-width="10"/>
<line x1="1950" y1="823.2" x2="1961" y2="823.2" stroke="#C8B4D8" stroke-width="10"/>
<line x1="197" y1="1226" x2="1945" y2="1226" stroke="#000" stroke-width="10"/>
<line x1="202" y1="953" x2="202" y2="1231" stroke="#505050" stroke-width="10"/>
<line x1="197" y1="958" x2="1945" y2="958" stroke="#000" stroke-width="10"/>
<line x1="1945" y1="953" x2="1945" y2="1231" stroke="#FF0000" stroke-width="10"/>
<line x1="185" y1="1022.8" x2="197" y2="1022.8" stroke="#505050" stroke-width="10"/>
<line x1="185" y1="1110.1" x2="197" y2="1110.1" stroke="#505050" stroke-width="10"/>
<line x1="185" y1="1196.8" x2="197" y2="1196.8" stroke="#505050" stroke-width="10"/>
<line x1="1950" y1="958" x2="1961" y2="958" stroke="#FF0000" stroke-width="10"/>
<line x1="1950" y1="1034.5" x2="1961" y2="1034.5" stroke="#FF0000" stroke-width="10"/>
<line x1="1950" y1="1110.8" x2="1961" y2="1110.8" stroke="#FF0000" stroke-width="10"/>
<line x1="1950" y1="1186.8" x2="1961" y2="1186.8" stroke="#FF0000" stroke-width="10"/>
<line x1="197" y1="1822" x2="1945" y2="1822" stroke="#000" stroke-width="10"/>
<line x1="202" y1="1266" x2="202" y2="1827" stroke="#000" stroke-width="10"/>
<line x1="197" y1="1271" x2="1945" y2="1271" stroke="#000" stroke-width="10"/>
<line x1="1945" y1="1266" x2="1945" y2="1827" stroke="#FF8C5F" stroke-width="10"/>
<line x1="185" y1="1343.2" x2="197" y2="1343.2" stroke="#000" stroke-width="10"/>
<line x1="185" y1="1502.2" x2="197" y2="1502.2" stroke="#000" stroke-width="10"/>
<line x1="185" y1="1661.6" x2="197" y2="1661.6" stroke="#000" stroke-width="10"/>
<line x1="185" y1="1822" x2="197" y2="1822" stroke="#000" stroke-width="10"/>
<line x1="1950" y1="1388.7" x2="1961" y2="1388.7" stroke="#FF8C5F" stroke-width="10"/>
<line x1="1950" y1="1546.3" x2="1961" y2="1546.3" stroke="#FF8C5F" stroke-width="10"/>
<line x1="1950" y1="1703.5" x2="1961" y2="1703.5" stroke="#FF8C5F" stroke-width="10"/>
<line x1="202.5" y1="1827" x2="202.5" y2="1838" stroke="#000" stroke-width="10"/>
<line x1="429.7" y1="1827" x2="429.7" y2="1838" stroke="#000" stroke-width="10"/>
<line x1="656.9" y1="1827" x2="656.9" y2="1838" stroke="#000" stroke-width="10"/>
<line x1="884.0999999999999" y1="1827" x2="884.0999999999999" y2="1838" stroke="#000" stroke-width="10"/>
<line x1="1111.3" y1="1827" x2="1111.3" y2="1838" stroke="#000" stroke-width="10"/>
<line x1="1338.5" y1="1827" x2="1338.5" y2="1838" stroke="#000" stroke-width="10"/>
<line x1="1565.6999999999998" y1="1827" x2="1565.6999999999998" y2="1838" stroke="#000" stroke-width="10"/>
<line x1="1792.8999999999999" y1="1827" x2="1792.8999999999999" y2="1838" stroke="#000" stroke-width="10"/>
<text x="174.8" y="400.8" text-anchor="end" fill="#000" font-size="60" >40</text>
<text x="174.8" y="521" text-anchor="end" fill="#000" font-size="60" >32</text>
<text x="174.8" y="699.3" text-anchor="end" fill="#000" font-size="60" >18</text>
<text x="174.8" y="787.7" text-anchor="end" fill="#000" font-size="60" >12</text>
<text x="174.8" y="877.8" text-anchor="end" fill="#000" font-size="60" >6</text>
<text x="174.8" y="1040.8" text-anchor="end" fill="#505050" font-size="60" >24</text>
<text x="174.8" y="1128.1" text-anchor="end" fill="#505050" font-size="60" >12</text>
<text x="174.8" y="1214.8" text-anchor="end" fill="#505050" font-size="60" >0</text>
<text x="174.8" y="1361.2" text-anchor="end" fill="#000" font-size="60" >300</text>
<text x="174.8" y="1520.2" text-anchor="end" fill="#000" font-size="60" >200</text>
<text x="174.8" y="1679.6" text-anchor="end" fill="#000" font-size="60" >100</text>
<text x="174.8" y="1838" text-anchor="end" fill="#000" font-size="60" >0</text>
<text x="1970.4" y="70.8" font-size="60" textLength="118.5" lengthAdjust="spacing">2000</text>
<text x="1974" y="167.8" font-size="60" textLength="114.9" lengthAdjust="spacing">1000</text>
<text x="1972" y="265.8" text-anchor="start" fill="#000" font-size="60" >0</text>
<text x="1972" y="418" text-anchor="start" fill="#0000FF" font-size="60" >100</text>
<text x="1972" y="520" text-anchor="start" fill="#0000FF" font-size="60" >50</text>
<text x="1972" y="622.5" text-anchor="start" fill="#0000FF" font-size="60" >0</text>
<text x="1972" y="732.4" text-anchor="start" fill="#C8B4D8" font-size="60" >100</text>
<text x="1972" y="840.2" text-anchor="start" fill="#C8B4D8" font-size="60" >50</text>
<text x="1972" y="975" text-anchor="start" fill="#FF0000" font-size="60" >3</text>
<text x="1972" y="1051.5" text-anchor="start" fill="#FF0000" font-size="60" >2</text>
<text x="1972" y="1127.8" text-anchor="start" fill="#FF0000" font-size="60" >1</text>
<text x="1972" y="1203.8" text-anchor="start" fill="#FF0000" font-size="60" >0</text>
<text x="1972" y="1405.7" text-anchor="start" fill="#000" font-size="60" >40</text>
<text x="1972" y="1563.3" text-anchor="start" fill="#000" font-size="60" >20</text>
<text x="1972" y="1720.5" text-anchor="start" fill="#000" font-size="60" >0</text>
<text x="200.9" y="1908.7" text-anchor="middle" font-size="62" textLength="105.4" lengthAdjust="spacing">7/27</text>
<text x="426.8" y="1908.7" text-anchor="middle" font-size="62" textLength="107.1" lengthAdjust="spacing">7/28</text>
<text x="655.5" y="1908.7" text-anchor="middle" font-size="62" textLength="106" lengthAdjust="spacing">7/29</text>
<text x="884" y="1908.7" text-anchor="middle" font-size="62" textLength="106.6" lengthAdjust="spacing">7/30</text>
<text x="1108.6" y="1908.7" text-anchor="middle" font-size="62" textLength="104.9" lengthAdjust="spacing">7/31</text>
<text x="1336.1" y="1908.7" text-anchor="middle" font-size="62" textLength="72.2" lengthAdjust="spacing">8/1</text>
<text x="1565.2" y="1908.7" text-anchor="middle" font-size="62" textLength="78" lengthAdjust="spacing">8/2</text>
<text x="1791.7" y="1908.7" text-anchor="middle" font-size="62" textLength="73.6" lengthAdjust="spacing">8/3</text>
<text x="991.5" y="2003" text-anchor="middle" fill="#000" font-size="65" >Date</text>
<text x="212.8" y="105.3" text-anchor="start" fill="#000" font-size="65.5" >(a)</text>
<text x="217.1" y="413.6" text-anchor="start" fill="#000" font-size="65.5" >(b)</text>
<text x="213.1" y="721.5" text-anchor="start" fill="#000" font-size="65.5" >(c)</text>
<text x="217.1" y="1024.5" text-anchor="start" fill="#000" font-size="65.5" >(d)</text>
<text x="226" y="1336.1" text-anchor="start" fill="#000" font-size="65.5" >(e)</text>
<text transform="translate(68.7,485.9) rotate(-90)" text-anchor="middle" fill="#000" font-size="60" textLength="133.2" lengthAdjust="spacing">T(°C)</text>
<text transform="translate(68.5,769.2) rotate(-90)" text-anchor="middle" fill="#000" font-size="60" textLength="309.4" lengthAdjust="spacing">SO<tspan dy="14" font-size="38">2</tspan><tspan dy="-14"> (μg·m</tspan><tspan dy="-26" font-size="38">−3</tspan><tspan dy="26">)</tspan></text>
<text transform="translate(68.5,1111.3) rotate(-90)" text-anchor="middle" fill="#000" font-size="60" textLength="295.2" lengthAdjust="spacing">OC (μg m<tspan dy="-26" font-size="38">−3</tspan><tspan dy="26">)</tspan></text>
<text transform="translate(68,1551) rotate(-90)" text-anchor="middle" fill="#000" font-size="60" textLength="542" lengthAdjust="spacing">Concentration (ng·m<tspan dy="-26" font-size="38">−3</tspan><tspan dy="26">)</tspan></text>
<text transform="translate(2141.4,163.2) rotate(-90)" text-anchor="middle" fill="#000" font-size="60" textLength="203.8" lengthAdjust="spacing">PBL (m)</text>
<text transform="translate(2134.2,472.2) rotate(-90)" text-anchor="middle" fill="#000" font-size="60" textLength="182.3" lengthAdjust="spacing">RH (%)</text>
<text transform="translate(2130.5,785.2) rotate(-90)" text-anchor="middle" fill="#000" font-size="60" textLength="187.1" lengthAdjust="spacing">O<tspan dy="14" font-size="38">3</tspan><tspan dy="-14">(ppb)</tspan></text>
<text transform="translate(2136.8,1095.5) rotate(-90)" text-anchor="middle" fill="#000" font-size="60" textLength="273.9" lengthAdjust="spacing">EC(μg m<tspan dy="-26" font-size="38">−3</tspan><tspan dy="26">)</tspan></text>
<text transform="translate(2139,1524.4) rotate(-90)" text-anchor="middle" fill="#000" font-size="60" textLength="334.5" lengthAdjust="spacing">PM<tspan dy="14" font-size="38">2.5</tspan><tspan dy="-14">(μg m</tspan><tspan dy="-26" font-size="38">−3</tspan><tspan dy="26">)</tspan></text>
</svg></body></html>
